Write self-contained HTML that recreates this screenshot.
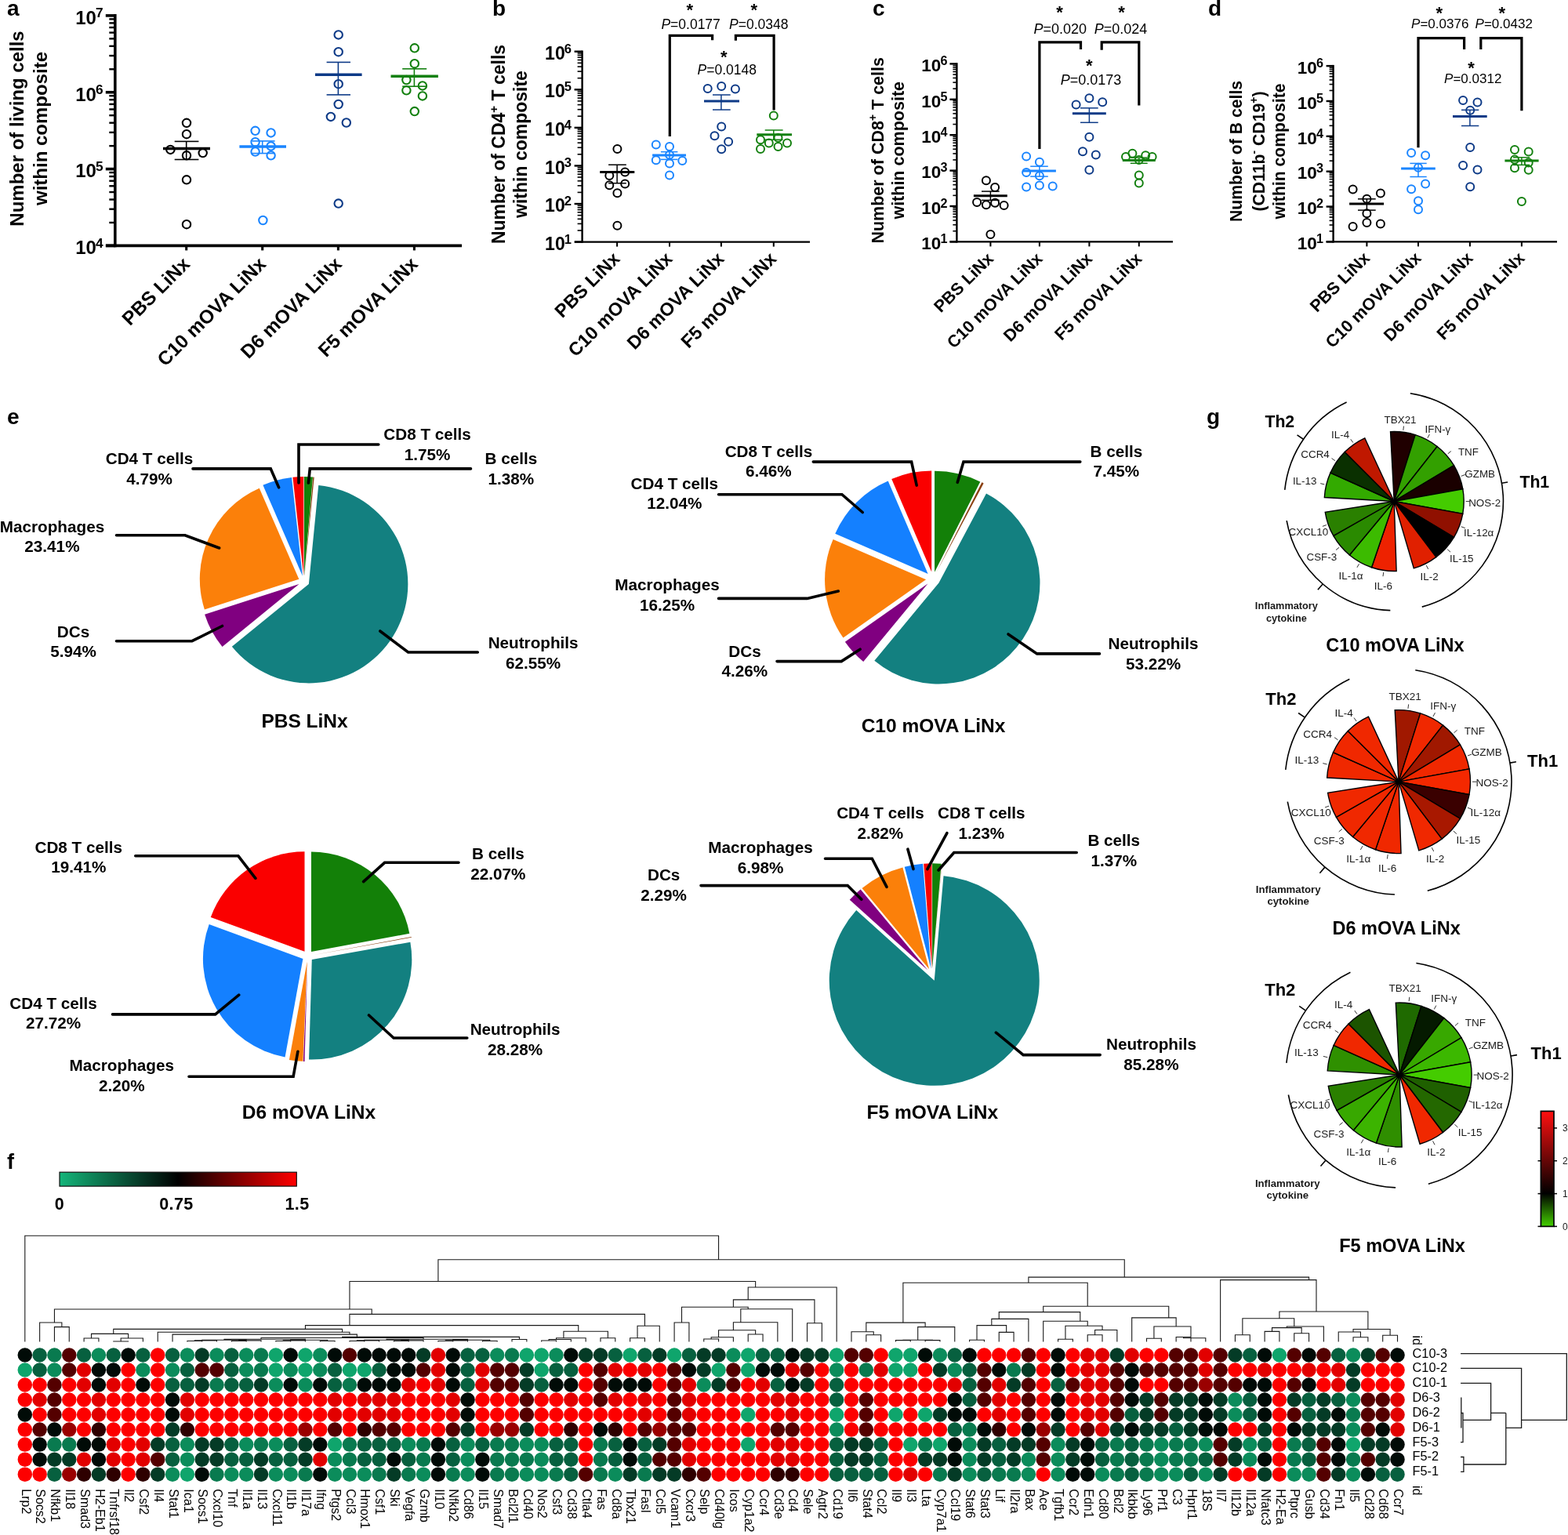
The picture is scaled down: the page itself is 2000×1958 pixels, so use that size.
<!DOCTYPE html>
<html><head><meta charset="utf-8"><title>Figure</title>
<style>html,body{margin:0;padding:0;background:#fff;}svg{display:block;}text{font-family:"Liberation Sans",Arial,sans-serif;}</style>
</head><body>
<svg width="2000" height="1958" viewBox="0 0 2000 1958" font-family="'Liberation Sans', Arial, sans-serif">
<rect width="2000" height="1958" fill="#fff"/>
<line x1="146.8" y1="18.1" x2="146.8" y2="315.2" stroke="#000" stroke-width="3.6"/>
<line x1="135" y1="313.4" x2="589" y2="313.4" stroke="#000" stroke-width="3.6"/>
<line x1="134.8" y1="313.4" x2="146.8" y2="313.4" stroke="#000" stroke-width="3.6"/>
<line x1="139.3" y1="283.95" x2="146.8" y2="283.95" stroke="#000" stroke-width="2.4"/>
<line x1="139.3" y1="266.72" x2="146.8" y2="266.72" stroke="#000" stroke-width="2.4"/>
<line x1="139.3" y1="254.5" x2="146.8" y2="254.5" stroke="#000" stroke-width="2.4"/>
<line x1="139.3" y1="245.02" x2="146.8" y2="245.02" stroke="#000" stroke-width="2.4"/>
<line x1="139.3" y1="237.27" x2="146.8" y2="237.27" stroke="#000" stroke-width="2.4"/>
<line x1="139.3" y1="230.72" x2="146.8" y2="230.72" stroke="#000" stroke-width="2.4"/>
<line x1="139.3" y1="225.05" x2="146.8" y2="225.05" stroke="#000" stroke-width="2.4"/>
<line x1="139.3" y1="220.04" x2="146.8" y2="220.04" stroke="#000" stroke-width="2.4"/>
<text x="131.5" y="324.2" font-size="24" font-weight="bold" text-anchor="end">10<tspan font-size="17.28" dx="-0.96" dy="-8.64">4</tspan></text>
<line x1="134.8" y1="215.57" x2="146.8" y2="215.57" stroke="#000" stroke-width="3.6"/>
<line x1="139.3" y1="186.12" x2="146.8" y2="186.12" stroke="#000" stroke-width="2.4"/>
<line x1="139.3" y1="168.89" x2="146.8" y2="168.89" stroke="#000" stroke-width="2.4"/>
<line x1="139.3" y1="156.67" x2="146.8" y2="156.67" stroke="#000" stroke-width="2.4"/>
<line x1="139.3" y1="147.18" x2="146.8" y2="147.18" stroke="#000" stroke-width="2.4"/>
<line x1="139.3" y1="139.44" x2="146.8" y2="139.44" stroke="#000" stroke-width="2.4"/>
<line x1="139.3" y1="132.89" x2="146.8" y2="132.89" stroke="#000" stroke-width="2.4"/>
<line x1="139.3" y1="127.21" x2="146.8" y2="127.21" stroke="#000" stroke-width="2.4"/>
<line x1="139.3" y1="122.21" x2="146.8" y2="122.21" stroke="#000" stroke-width="2.4"/>
<text x="131.5" y="226.37" font-size="24" font-weight="bold" text-anchor="end">10<tspan font-size="17.28" dx="-0.96" dy="-8.64">5</tspan></text>
<line x1="134.8" y1="117.73" x2="146.8" y2="117.73" stroke="#000" stroke-width="3.6"/>
<line x1="139.3" y1="88.28" x2="146.8" y2="88.28" stroke="#000" stroke-width="2.4"/>
<line x1="139.3" y1="71.05" x2="146.8" y2="71.05" stroke="#000" stroke-width="2.4"/>
<line x1="139.3" y1="58.83" x2="146.8" y2="58.83" stroke="#000" stroke-width="2.4"/>
<line x1="139.3" y1="49.35" x2="146.8" y2="49.35" stroke="#000" stroke-width="2.4"/>
<line x1="139.3" y1="41.6" x2="146.8" y2="41.6" stroke="#000" stroke-width="2.4"/>
<line x1="139.3" y1="35.05" x2="146.8" y2="35.05" stroke="#000" stroke-width="2.4"/>
<line x1="139.3" y1="29.38" x2="146.8" y2="29.38" stroke="#000" stroke-width="2.4"/>
<line x1="139.3" y1="24.38" x2="146.8" y2="24.38" stroke="#000" stroke-width="2.4"/>
<text x="131.5" y="128.53" font-size="24" font-weight="bold" text-anchor="end">10<tspan font-size="17.28" dx="-0.96" dy="-8.64">6</tspan></text>
<line x1="134.8" y1="19.9" x2="146.8" y2="19.9" stroke="#000" stroke-width="3.6"/>
<text x="131.5" y="30.7" font-size="24" font-weight="bold" text-anchor="end">10<tspan font-size="17.28" dx="-0.96" dy="-8.64">7</tspan></text>
<line x1="237.7" y1="313.4" x2="237.7" y2="319.4" stroke="#000" stroke-width="3.06"/>
<text x="243.7" y="338.4" font-size="24.5" font-weight="bold" text-anchor="end" transform="rotate(-45 243.7 338.4)">PBS LiNx</text>
<line x1="334.7" y1="313.4" x2="334.7" y2="319.4" stroke="#000" stroke-width="3.06"/>
<text x="340.7" y="338.4" font-size="24.5" font-weight="bold" text-anchor="end" transform="rotate(-45 340.7 338.4)">C10 mOVA LiNx</text>
<line x1="431.4" y1="313.4" x2="431.4" y2="319.4" stroke="#000" stroke-width="3.06"/>
<text x="437.4" y="338.4" font-size="24.5" font-weight="bold" text-anchor="end" transform="rotate(-45 437.4 338.4)">D6 mOVA LiNx</text>
<line x1="528.4" y1="313.4" x2="528.4" y2="319.4" stroke="#000" stroke-width="3.06"/>
<text x="534.4" y="338.4" font-size="24.5" font-weight="bold" text-anchor="end" transform="rotate(-45 534.4 338.4)">F5 mOVA LiNx</text>
<text x="30.3" y="164" font-size="24" font-weight="bold" text-anchor="middle" transform="rotate(-90 30.3 164)">Number of living cells</text>
<text x="59.5" y="164" font-size="24" font-weight="bold" text-anchor="middle" transform="rotate(-90 59.5 164)">within composite</text>
<circle cx="238" cy="156.8" r="5.2" fill="none" stroke="#000000" stroke-width="2.1"/>
<circle cx="238" cy="171.2" r="5.2" fill="none" stroke="#000000" stroke-width="2.1"/>
<circle cx="217.4" cy="190.9" r="5.2" fill="none" stroke="#000000" stroke-width="2.1"/>
<circle cx="238" cy="198.3" r="5.2" fill="none" stroke="#000000" stroke-width="2.1"/>
<circle cx="258.7" cy="195.1" r="5.2" fill="none" stroke="#000000" stroke-width="2.1"/>
<circle cx="238" cy="229.3" r="5.2" fill="none" stroke="#000000" stroke-width="2.1"/>
<circle cx="238" cy="286.2" r="5.2" fill="none" stroke="#000000" stroke-width="2.1"/>
<line x1="208" y1="189.6" x2="268" y2="189.6" stroke="#000000" stroke-width="3.5"/>
<line x1="237.7" y1="180.4" x2="237.7" y2="203.5" stroke="#000000" stroke-width="1.6"/>
<line x1="222.7" y1="180.4" x2="253.4" y2="180.4" stroke="#000000" stroke-width="1.6"/>
<line x1="222.7" y1="203.5" x2="253.4" y2="203.5" stroke="#000000" stroke-width="1.6"/>
<circle cx="325.6" cy="166.8" r="5.2" fill="none" stroke="#1a85ff" stroke-width="2.1"/>
<circle cx="345.6" cy="169.4" r="5.2" fill="none" stroke="#1a85ff" stroke-width="2.1"/>
<circle cx="325.6" cy="181.2" r="5.2" fill="none" stroke="#1a85ff" stroke-width="2.1"/>
<circle cx="345.6" cy="186.4" r="5.2" fill="none" stroke="#1a85ff" stroke-width="2.1"/>
<circle cx="325.6" cy="193.5" r="5.2" fill="none" stroke="#1a85ff" stroke-width="2.1"/>
<circle cx="345.6" cy="198.3" r="5.2" fill="none" stroke="#1a85ff" stroke-width="2.1"/>
<circle cx="335.4" cy="281" r="5.2" fill="none" stroke="#1a85ff" stroke-width="2.1"/>
<line x1="305.4" y1="187" x2="365" y2="187" stroke="#1a85ff" stroke-width="3.5"/>
<line x1="334.7" y1="179.9" x2="334.7" y2="195.6" stroke="#1a85ff" stroke-width="1.6"/>
<line x1="321.7" y1="179.9" x2="350.6" y2="179.9" stroke="#1a85ff" stroke-width="1.6"/>
<line x1="321.7" y1="195.6" x2="350.6" y2="195.6" stroke="#1a85ff" stroke-width="1.6"/>
<circle cx="431.7" cy="44.4" r="5.2" fill="none" stroke="#0d3a87" stroke-width="2.1"/>
<circle cx="431.7" cy="66.2" r="5.2" fill="none" stroke="#0d3a87" stroke-width="2.1"/>
<circle cx="431.7" cy="107.2" r="5.2" fill="none" stroke="#0d3a87" stroke-width="2.1"/>
<circle cx="431.7" cy="133" r="5.2" fill="none" stroke="#0d3a87" stroke-width="2.1"/>
<circle cx="421.9" cy="148.9" r="5.2" fill="none" stroke="#0d3a87" stroke-width="2.1"/>
<circle cx="441.8" cy="156.5" r="5.2" fill="none" stroke="#0d3a87" stroke-width="2.1"/>
<circle cx="431.7" cy="259.6" r="5.2" fill="none" stroke="#0d3a87" stroke-width="2.1"/>
<line x1="402" y1="95.2" x2="461.6" y2="95.2" stroke="#0d3a87" stroke-width="3.5"/>
<line x1="431.4" y1="79.4" x2="431.4" y2="120.9" stroke="#0d3a87" stroke-width="1.6"/>
<line x1="416.6" y1="79.4" x2="447" y2="79.4" stroke="#0d3a87" stroke-width="1.6"/>
<line x1="416.6" y1="120.9" x2="447" y2="120.9" stroke="#0d3a87" stroke-width="1.6"/>
<circle cx="528.8" cy="61.3" r="5.2" fill="none" stroke="#13800f" stroke-width="2.1"/>
<circle cx="528.8" cy="81.2" r="5.2" fill="none" stroke="#13800f" stroke-width="2.1"/>
<circle cx="518.4" cy="102" r="5.2" fill="none" stroke="#13800f" stroke-width="2.1"/>
<circle cx="538.9" cy="109.4" r="5.2" fill="none" stroke="#13800f" stroke-width="2.1"/>
<circle cx="518.4" cy="115.3" r="5.2" fill="none" stroke="#13800f" stroke-width="2.1"/>
<circle cx="538.9" cy="122.4" r="5.2" fill="none" stroke="#13800f" stroke-width="2.1"/>
<circle cx="528.8" cy="142.1" r="5.2" fill="none" stroke="#13800f" stroke-width="2.1"/>
<line x1="498.5" y1="97.2" x2="558.9" y2="97.2" stroke="#13800f" stroke-width="3.5"/>
<line x1="528.4" y1="87.8" x2="528.4" y2="110.2" stroke="#13800f" stroke-width="1.6"/>
<line x1="513.2" y1="87.8" x2="544.2" y2="87.8" stroke="#13800f" stroke-width="1.6"/>
<line x1="513.2" y1="110.2" x2="544.2" y2="110.2" stroke="#13800f" stroke-width="1.6"/>
<text x="9" y="20" font-size="28" font-weight="bold">a</text>
<line x1="742.6" y1="64.5" x2="742.6" y2="309.8" stroke="#000" stroke-width="2.4"/>
<line x1="733" y1="308.6" x2="1033" y2="308.6" stroke="#000" stroke-width="2.4"/>
<line x1="732.6" y1="308.6" x2="742.6" y2="308.6" stroke="#000" stroke-width="2.4"/>
<line x1="736.6" y1="293.98" x2="742.6" y2="293.98" stroke="#000" stroke-width="1.6"/>
<line x1="736.6" y1="285.42" x2="742.6" y2="285.42" stroke="#000" stroke-width="1.6"/>
<line x1="736.6" y1="279.35" x2="742.6" y2="279.35" stroke="#000" stroke-width="1.6"/>
<line x1="736.6" y1="274.64" x2="742.6" y2="274.64" stroke="#000" stroke-width="1.6"/>
<line x1="736.6" y1="270.8" x2="742.6" y2="270.8" stroke="#000" stroke-width="1.6"/>
<line x1="736.6" y1="267.55" x2="742.6" y2="267.55" stroke="#000" stroke-width="1.6"/>
<line x1="736.6" y1="264.73" x2="742.6" y2="264.73" stroke="#000" stroke-width="1.6"/>
<line x1="736.6" y1="262.24" x2="742.6" y2="262.24" stroke="#000" stroke-width="1.6"/>
<text x="729" y="318.8" font-size="23" font-weight="bold" text-anchor="end">10<tspan font-size="16.56" dx="-0.92" dy="-8.28">1</tspan></text>
<line x1="732.6" y1="260.02" x2="742.6" y2="260.02" stroke="#000" stroke-width="2.4"/>
<line x1="736.6" y1="245.4" x2="742.6" y2="245.4" stroke="#000" stroke-width="1.6"/>
<line x1="736.6" y1="236.84" x2="742.6" y2="236.84" stroke="#000" stroke-width="1.6"/>
<line x1="736.6" y1="230.77" x2="742.6" y2="230.77" stroke="#000" stroke-width="1.6"/>
<line x1="736.6" y1="226.06" x2="742.6" y2="226.06" stroke="#000" stroke-width="1.6"/>
<line x1="736.6" y1="222.22" x2="742.6" y2="222.22" stroke="#000" stroke-width="1.6"/>
<line x1="736.6" y1="218.97" x2="742.6" y2="218.97" stroke="#000" stroke-width="1.6"/>
<line x1="736.6" y1="216.15" x2="742.6" y2="216.15" stroke="#000" stroke-width="1.6"/>
<line x1="736.6" y1="213.66" x2="742.6" y2="213.66" stroke="#000" stroke-width="1.6"/>
<text x="729" y="270.22" font-size="23" font-weight="bold" text-anchor="end">10<tspan font-size="16.56" dx="-0.92" dy="-8.28">2</tspan></text>
<line x1="732.6" y1="211.44" x2="742.6" y2="211.44" stroke="#000" stroke-width="2.4"/>
<line x1="736.6" y1="196.82" x2="742.6" y2="196.82" stroke="#000" stroke-width="1.6"/>
<line x1="736.6" y1="188.26" x2="742.6" y2="188.26" stroke="#000" stroke-width="1.6"/>
<line x1="736.6" y1="182.19" x2="742.6" y2="182.19" stroke="#000" stroke-width="1.6"/>
<line x1="736.6" y1="177.48" x2="742.6" y2="177.48" stroke="#000" stroke-width="1.6"/>
<line x1="736.6" y1="173.64" x2="742.6" y2="173.64" stroke="#000" stroke-width="1.6"/>
<line x1="736.6" y1="170.39" x2="742.6" y2="170.39" stroke="#000" stroke-width="1.6"/>
<line x1="736.6" y1="167.57" x2="742.6" y2="167.57" stroke="#000" stroke-width="1.6"/>
<line x1="736.6" y1="165.08" x2="742.6" y2="165.08" stroke="#000" stroke-width="1.6"/>
<text x="729" y="221.64" font-size="23" font-weight="bold" text-anchor="end">10<tspan font-size="16.56" dx="-0.92" dy="-8.28">3</tspan></text>
<line x1="732.6" y1="162.86" x2="742.6" y2="162.86" stroke="#000" stroke-width="2.4"/>
<line x1="736.6" y1="148.24" x2="742.6" y2="148.24" stroke="#000" stroke-width="1.6"/>
<line x1="736.6" y1="139.68" x2="742.6" y2="139.68" stroke="#000" stroke-width="1.6"/>
<line x1="736.6" y1="133.61" x2="742.6" y2="133.61" stroke="#000" stroke-width="1.6"/>
<line x1="736.6" y1="128.9" x2="742.6" y2="128.9" stroke="#000" stroke-width="1.6"/>
<line x1="736.6" y1="125.06" x2="742.6" y2="125.06" stroke="#000" stroke-width="1.6"/>
<line x1="736.6" y1="121.81" x2="742.6" y2="121.81" stroke="#000" stroke-width="1.6"/>
<line x1="736.6" y1="118.99" x2="742.6" y2="118.99" stroke="#000" stroke-width="1.6"/>
<line x1="736.6" y1="116.5" x2="742.6" y2="116.5" stroke="#000" stroke-width="1.6"/>
<text x="729" y="173.06" font-size="23" font-weight="bold" text-anchor="end">10<tspan font-size="16.56" dx="-0.92" dy="-8.28">4</tspan></text>
<line x1="732.6" y1="114.28" x2="742.6" y2="114.28" stroke="#000" stroke-width="2.4"/>
<line x1="736.6" y1="99.66" x2="742.6" y2="99.66" stroke="#000" stroke-width="1.6"/>
<line x1="736.6" y1="91.1" x2="742.6" y2="91.1" stroke="#000" stroke-width="1.6"/>
<line x1="736.6" y1="85.03" x2="742.6" y2="85.03" stroke="#000" stroke-width="1.6"/>
<line x1="736.6" y1="80.32" x2="742.6" y2="80.32" stroke="#000" stroke-width="1.6"/>
<line x1="736.6" y1="76.48" x2="742.6" y2="76.48" stroke="#000" stroke-width="1.6"/>
<line x1="736.6" y1="73.23" x2="742.6" y2="73.23" stroke="#000" stroke-width="1.6"/>
<line x1="736.6" y1="70.41" x2="742.6" y2="70.41" stroke="#000" stroke-width="1.6"/>
<line x1="736.6" y1="67.92" x2="742.6" y2="67.92" stroke="#000" stroke-width="1.6"/>
<text x="729" y="124.48" font-size="23" font-weight="bold" text-anchor="end">10<tspan font-size="16.56" dx="-0.92" dy="-8.28">5</tspan></text>
<line x1="732.6" y1="65.7" x2="742.6" y2="65.7" stroke="#000" stroke-width="2.4"/>
<text x="729" y="75.9" font-size="23" font-weight="bold" text-anchor="end">10<tspan font-size="16.56" dx="-0.92" dy="-8.28">6</tspan></text>
<line x1="787.1" y1="308.6" x2="787.1" y2="314.6" stroke="#000" stroke-width="2.04"/>
<text x="792.1" y="331.6" font-size="23.5" font-weight="bold" text-anchor="end" transform="rotate(-45 792.1 331.6)">PBS LiNx</text>
<line x1="854" y1="308.6" x2="854" y2="314.6" stroke="#000" stroke-width="2.04"/>
<text x="859" y="331.6" font-size="23.5" font-weight="bold" text-anchor="end" transform="rotate(-45 859 331.6)">C10 mOVA LiNx</text>
<line x1="919.9" y1="308.6" x2="919.9" y2="314.6" stroke="#000" stroke-width="2.04"/>
<text x="924.9" y="331.6" font-size="23.5" font-weight="bold" text-anchor="end" transform="rotate(-45 924.9 331.6)">D6 mOVA LiNx</text>
<line x1="986.8" y1="308.6" x2="986.8" y2="314.6" stroke="#000" stroke-width="2.04"/>
<text x="991.8" y="331.6" font-size="23.5" font-weight="bold" text-anchor="end" transform="rotate(-45 991.8 331.6)">F5 mOVA LiNx</text>
<text x="644.3" y="184" font-size="23" font-weight="bold" text-anchor="middle" transform="rotate(-90 644.3 184)">Number of CD4<tspan font-size="15" dy="-9">+</tspan><tspan dy="9"> T cells</tspan></text>
<text x="672.4" y="184" font-size="23" font-weight="bold" text-anchor="middle" transform="rotate(-90 672.4 184)">within composite</text>
<circle cx="787.4" cy="190" r="5.0" fill="none" stroke="#000000" stroke-width="2.0"/>
<circle cx="777.3" cy="224.1" r="5.0" fill="none" stroke="#000000" stroke-width="2.0"/>
<circle cx="797.2" cy="219.4" r="5.0" fill="none" stroke="#000000" stroke-width="2.0"/>
<circle cx="777.3" cy="236.2" r="5.0" fill="none" stroke="#000000" stroke-width="2.0"/>
<circle cx="797.2" cy="234.5" r="5.0" fill="none" stroke="#000000" stroke-width="2.0"/>
<circle cx="787.4" cy="246.3" r="5.0" fill="none" stroke="#000000" stroke-width="2.0"/>
<circle cx="787.4" cy="287.8" r="5.0" fill="none" stroke="#000000" stroke-width="2.0"/>
<line x1="765.2" y1="219.4" x2="809.3" y2="219.4" stroke="#000000" stroke-width="3.0"/>
<line x1="787.1" y1="210.2" x2="787.1" y2="233.7" stroke="#000000" stroke-width="1.5"/>
<line x1="776.1" y1="210.2" x2="798.8" y2="210.2" stroke="#000000" stroke-width="1.5"/>
<line x1="776.1" y1="233.7" x2="798.8" y2="233.7" stroke="#000000" stroke-width="1.5"/>
<circle cx="836.8" cy="184.4" r="5.0" fill="none" stroke="#1a85ff" stroke-width="2.0"/>
<circle cx="854" cy="187" r="5.0" fill="none" stroke="#1a85ff" stroke-width="2.0"/>
<circle cx="854" cy="197.5" r="5.0" fill="none" stroke="#1a85ff" stroke-width="2.0"/>
<circle cx="836.8" cy="204.3" r="5.0" fill="none" stroke="#1a85ff" stroke-width="2.0"/>
<circle cx="870.3" cy="205.1" r="5.0" fill="none" stroke="#1a85ff" stroke-width="2.0"/>
<circle cx="854" cy="208.5" r="5.0" fill="none" stroke="#1a85ff" stroke-width="2.0"/>
<circle cx="854" cy="223.6" r="5.0" fill="none" stroke="#1a85ff" stroke-width="2.0"/>
<line x1="832.1" y1="197.9" x2="875" y2="197.9" stroke="#1a85ff" stroke-width="3.0"/>
<line x1="854" y1="193.7" x2="854" y2="203.4" stroke="#1a85ff" stroke-width="1.5"/>
<line x1="842.9" y1="193.7" x2="864.4" y2="193.7" stroke="#1a85ff" stroke-width="1.5"/>
<line x1="842.9" y1="203.4" x2="864.4" y2="203.4" stroke="#1a85ff" stroke-width="1.5"/>
<circle cx="902.7" cy="113" r="5.0" fill="none" stroke="#0d3a87" stroke-width="2.0"/>
<circle cx="920.2" cy="110.1" r="5.0" fill="none" stroke="#0d3a87" stroke-width="2.0"/>
<circle cx="937.9" cy="113.5" r="5.0" fill="none" stroke="#0d3a87" stroke-width="2.0"/>
<circle cx="920.2" cy="161.4" r="5.0" fill="none" stroke="#0d3a87" stroke-width="2.0"/>
<circle cx="911.5" cy="173.2" r="5.0" fill="none" stroke="#0d3a87" stroke-width="2.0"/>
<circle cx="929.1" cy="180.7" r="5.0" fill="none" stroke="#0d3a87" stroke-width="2.0"/>
<circle cx="920.2" cy="190.3" r="5.0" fill="none" stroke="#0d3a87" stroke-width="2.0"/>
<line x1="898" y1="129" x2="943" y2="129" stroke="#0d3a87" stroke-width="3.0"/>
<line x1="919.9" y1="121" x2="919.9" y2="140" stroke="#0d3a87" stroke-width="1.5"/>
<line x1="909" y1="121" x2="931.7" y2="121" stroke="#0d3a87" stroke-width="1.5"/>
<line x1="909" y1="140" x2="931.7" y2="140" stroke="#0d3a87" stroke-width="1.5"/>
<circle cx="986.8" cy="147.4" r="5.0" fill="none" stroke="#13800f" stroke-width="2.0"/>
<circle cx="970" cy="178.2" r="5.0" fill="none" stroke="#13800f" stroke-width="2.0"/>
<circle cx="980.8" cy="182.4" r="5.0" fill="none" stroke="#13800f" stroke-width="2.0"/>
<circle cx="992.5" cy="175.7" r="5.0" fill="none" stroke="#13800f" stroke-width="2.0"/>
<circle cx="1004" cy="182.4" r="5.0" fill="none" stroke="#13800f" stroke-width="2.0"/>
<circle cx="970" cy="190" r="5.0" fill="none" stroke="#13800f" stroke-width="2.0"/>
<circle cx="992.5" cy="187" r="5.0" fill="none" stroke="#13800f" stroke-width="2.0"/>
<line x1="965.3" y1="171.8" x2="1010" y2="171.8" stroke="#13800f" stroke-width="3.0"/>
<line x1="986.8" y1="166" x2="986.8" y2="178.2" stroke="#13800f" stroke-width="1.5"/>
<line x1="975.7" y1="166" x2="998.6" y2="166" stroke="#13800f" stroke-width="1.5"/>
<line x1="975.7" y1="178.2" x2="998.6" y2="178.2" stroke="#13800f" stroke-width="1.5"/>
<path d="M854.3 174V45.4H908.6V51.3" fill="none" stroke="#000" stroke-width="3.2"/>
<path d="M938.4 51.8V45.4H987.1V140.4" fill="none" stroke="#000" stroke-width="3.2"/>
<text x="843.4" y="36.7" font-size="17.5" text-anchor="start"><tspan font-style="italic">P</tspan>=0.0177</text>
<text x="930" y="36.7" font-size="17.5" text-anchor="start"><tspan font-style="italic">P</tspan>=0.0348</text>
<text x="889.6" y="95" font-size="17.5" text-anchor="start"><tspan font-style="italic">P</tspan>=0.0148</text>
<text x="879.9" y="20" font-size="22" font-weight="bold" text-anchor="middle">*</text>
<text x="961.9" y="20" font-size="22" font-weight="bold" text-anchor="middle">*</text>
<text x="923.3" y="80" font-size="22" font-weight="bold" text-anchor="middle">*</text>
<text x="628" y="20" font-size="28" font-weight="bold">b</text>
<line x1="1220.4" y1="80.2" x2="1220.4" y2="309.6" stroke="#000" stroke-width="2.4"/>
<line x1="1211.5" y1="308.4" x2="1496" y2="308.4" stroke="#000" stroke-width="2.4"/>
<line x1="1211.4" y1="308.4" x2="1220.4" y2="308.4" stroke="#000" stroke-width="2.4"/>
<line x1="1215.4" y1="294.73" x2="1220.4" y2="294.73" stroke="#000" stroke-width="1.6"/>
<line x1="1215.4" y1="286.74" x2="1220.4" y2="286.74" stroke="#000" stroke-width="1.6"/>
<line x1="1215.4" y1="281.07" x2="1220.4" y2="281.07" stroke="#000" stroke-width="1.6"/>
<line x1="1215.4" y1="276.67" x2="1220.4" y2="276.67" stroke="#000" stroke-width="1.6"/>
<line x1="1215.4" y1="273.07" x2="1220.4" y2="273.07" stroke="#000" stroke-width="1.6"/>
<line x1="1215.4" y1="270.03" x2="1220.4" y2="270.03" stroke="#000" stroke-width="1.6"/>
<line x1="1215.4" y1="267.4" x2="1220.4" y2="267.4" stroke="#000" stroke-width="1.6"/>
<line x1="1215.4" y1="265.08" x2="1220.4" y2="265.08" stroke="#000" stroke-width="1.6"/>
<text x="1208.5" y="318.2" font-size="22.5" font-weight="bold" text-anchor="end">10<tspan font-size="16.2" dx="-0.9" dy="-8.1">1</tspan></text>
<line x1="1211.4" y1="263" x2="1220.4" y2="263" stroke="#000" stroke-width="2.4"/>
<line x1="1215.4" y1="249.33" x2="1220.4" y2="249.33" stroke="#000" stroke-width="1.6"/>
<line x1="1215.4" y1="241.34" x2="1220.4" y2="241.34" stroke="#000" stroke-width="1.6"/>
<line x1="1215.4" y1="235.67" x2="1220.4" y2="235.67" stroke="#000" stroke-width="1.6"/>
<line x1="1215.4" y1="231.27" x2="1220.4" y2="231.27" stroke="#000" stroke-width="1.6"/>
<line x1="1215.4" y1="227.67" x2="1220.4" y2="227.67" stroke="#000" stroke-width="1.6"/>
<line x1="1215.4" y1="224.63" x2="1220.4" y2="224.63" stroke="#000" stroke-width="1.6"/>
<line x1="1215.4" y1="222" x2="1220.4" y2="222" stroke="#000" stroke-width="1.6"/>
<line x1="1215.4" y1="219.68" x2="1220.4" y2="219.68" stroke="#000" stroke-width="1.6"/>
<text x="1208.5" y="272.8" font-size="22.5" font-weight="bold" text-anchor="end">10<tspan font-size="16.2" dx="-0.9" dy="-8.1">2</tspan></text>
<line x1="1211.4" y1="217.6" x2="1220.4" y2="217.6" stroke="#000" stroke-width="2.4"/>
<line x1="1215.4" y1="203.93" x2="1220.4" y2="203.93" stroke="#000" stroke-width="1.6"/>
<line x1="1215.4" y1="195.94" x2="1220.4" y2="195.94" stroke="#000" stroke-width="1.6"/>
<line x1="1215.4" y1="190.27" x2="1220.4" y2="190.27" stroke="#000" stroke-width="1.6"/>
<line x1="1215.4" y1="185.87" x2="1220.4" y2="185.87" stroke="#000" stroke-width="1.6"/>
<line x1="1215.4" y1="182.27" x2="1220.4" y2="182.27" stroke="#000" stroke-width="1.6"/>
<line x1="1215.4" y1="179.23" x2="1220.4" y2="179.23" stroke="#000" stroke-width="1.6"/>
<line x1="1215.4" y1="176.6" x2="1220.4" y2="176.6" stroke="#000" stroke-width="1.6"/>
<line x1="1215.4" y1="174.28" x2="1220.4" y2="174.28" stroke="#000" stroke-width="1.6"/>
<text x="1208.5" y="227.4" font-size="22.5" font-weight="bold" text-anchor="end">10<tspan font-size="16.2" dx="-0.9" dy="-8.1">3</tspan></text>
<line x1="1211.4" y1="172.2" x2="1220.4" y2="172.2" stroke="#000" stroke-width="2.4"/>
<line x1="1215.4" y1="158.53" x2="1220.4" y2="158.53" stroke="#000" stroke-width="1.6"/>
<line x1="1215.4" y1="150.54" x2="1220.4" y2="150.54" stroke="#000" stroke-width="1.6"/>
<line x1="1215.4" y1="144.87" x2="1220.4" y2="144.87" stroke="#000" stroke-width="1.6"/>
<line x1="1215.4" y1="140.47" x2="1220.4" y2="140.47" stroke="#000" stroke-width="1.6"/>
<line x1="1215.4" y1="136.87" x2="1220.4" y2="136.87" stroke="#000" stroke-width="1.6"/>
<line x1="1215.4" y1="133.83" x2="1220.4" y2="133.83" stroke="#000" stroke-width="1.6"/>
<line x1="1215.4" y1="131.2" x2="1220.4" y2="131.2" stroke="#000" stroke-width="1.6"/>
<line x1="1215.4" y1="128.88" x2="1220.4" y2="128.88" stroke="#000" stroke-width="1.6"/>
<text x="1208.5" y="182" font-size="22.5" font-weight="bold" text-anchor="end">10<tspan font-size="16.2" dx="-0.9" dy="-8.1">4</tspan></text>
<line x1="1211.4" y1="126.8" x2="1220.4" y2="126.8" stroke="#000" stroke-width="2.4"/>
<line x1="1215.4" y1="113.13" x2="1220.4" y2="113.13" stroke="#000" stroke-width="1.6"/>
<line x1="1215.4" y1="105.14" x2="1220.4" y2="105.14" stroke="#000" stroke-width="1.6"/>
<line x1="1215.4" y1="99.47" x2="1220.4" y2="99.47" stroke="#000" stroke-width="1.6"/>
<line x1="1215.4" y1="95.07" x2="1220.4" y2="95.07" stroke="#000" stroke-width="1.6"/>
<line x1="1215.4" y1="91.47" x2="1220.4" y2="91.47" stroke="#000" stroke-width="1.6"/>
<line x1="1215.4" y1="88.43" x2="1220.4" y2="88.43" stroke="#000" stroke-width="1.6"/>
<line x1="1215.4" y1="85.8" x2="1220.4" y2="85.8" stroke="#000" stroke-width="1.6"/>
<line x1="1215.4" y1="83.48" x2="1220.4" y2="83.48" stroke="#000" stroke-width="1.6"/>
<text x="1208.5" y="136.6" font-size="22.5" font-weight="bold" text-anchor="end">10<tspan font-size="16.2" dx="-0.9" dy="-8.1">5</tspan></text>
<line x1="1211.4" y1="81.4" x2="1220.4" y2="81.4" stroke="#000" stroke-width="2.4"/>
<text x="1208.5" y="91.2" font-size="22.5" font-weight="bold" text-anchor="end">10<tspan font-size="16.2" dx="-0.9" dy="-8.1">6</tspan></text>
<line x1="1263.4" y1="308.4" x2="1263.4" y2="314.4" stroke="#000" stroke-width="2.04"/>
<text x="1268.4" y="331.4" font-size="21.5" font-weight="bold" text-anchor="end" transform="rotate(-45 1268.4 331.4)">PBS LiNx</text>
<line x1="1325.9" y1="308.4" x2="1325.9" y2="314.4" stroke="#000" stroke-width="2.04"/>
<text x="1330.9" y="331.4" font-size="21.5" font-weight="bold" text-anchor="end" transform="rotate(-45 1330.9 331.4)">C10 mOVA LiNx</text>
<line x1="1389.4" y1="308.4" x2="1389.4" y2="314.4" stroke="#000" stroke-width="2.04"/>
<text x="1394.4" y="331.4" font-size="21.5" font-weight="bold" text-anchor="end" transform="rotate(-45 1394.4 331.4)">D6 mOVA LiNx</text>
<line x1="1452.8" y1="308.4" x2="1452.8" y2="314.4" stroke="#000" stroke-width="2.04"/>
<text x="1457.8" y="331.4" font-size="21.5" font-weight="bold" text-anchor="end" transform="rotate(-45 1457.8 331.4)">F5 mOVA LiNx</text>
<text x="1126.9" y="191.8" font-size="21.5" font-weight="bold" text-anchor="middle" transform="rotate(-90 1126.9 191.8)">Number of CD8<tspan font-size="14" dy="-9">+</tspan><tspan dy="9"> T cells</tspan></text>
<text x="1153.5" y="191.8" font-size="21.5" font-weight="bold" text-anchor="middle" transform="rotate(-90 1153.5 191.8)">within composite</text>
<circle cx="1257.9" cy="230.2" r="5.0" fill="none" stroke="#000000" stroke-width="2.0"/>
<circle cx="1269.1" cy="238.9" r="5.0" fill="none" stroke="#000000" stroke-width="2.0"/>
<circle cx="1246.1" cy="257.9" r="5.0" fill="none" stroke="#000000" stroke-width="2.0"/>
<circle cx="1257.9" cy="261.3" r="5.0" fill="none" stroke="#000000" stroke-width="2.0"/>
<circle cx="1269.1" cy="258.7" r="5.0" fill="none" stroke="#000000" stroke-width="2.0"/>
<circle cx="1280.6" cy="262.1" r="5.0" fill="none" stroke="#000000" stroke-width="2.0"/>
<circle cx="1263.4" cy="299" r="5.0" fill="none" stroke="#000000" stroke-width="2.0"/>
<line x1="1241.9" y1="249.8" x2="1284.8" y2="249.8" stroke="#000000" stroke-width="3.0"/>
<line x1="1263.4" y1="244.1" x2="1263.4" y2="255.4" stroke="#000000" stroke-width="1.5"/>
<line x1="1252" y1="244.1" x2="1274.7" y2="244.1" stroke="#000000" stroke-width="1.5"/>
<line x1="1252" y1="255.4" x2="1274.7" y2="255.4" stroke="#000000" stroke-width="1.5"/>
<circle cx="1309.1" cy="199.4" r="5.0" fill="none" stroke="#1a85ff" stroke-width="2.0"/>
<circle cx="1325.9" cy="206.7" r="5.0" fill="none" stroke="#1a85ff" stroke-width="2.0"/>
<circle cx="1309.1" cy="220.1" r="5.0" fill="none" stroke="#1a85ff" stroke-width="2.0"/>
<circle cx="1325.9" cy="224.3" r="5.0" fill="none" stroke="#1a85ff" stroke-width="2.0"/>
<circle cx="1309.1" cy="238.6" r="5.0" fill="none" stroke="#1a85ff" stroke-width="2.0"/>
<circle cx="1325.9" cy="236.4" r="5.0" fill="none" stroke="#1a85ff" stroke-width="2.0"/>
<circle cx="1342.7" cy="237.4" r="5.0" fill="none" stroke="#1a85ff" stroke-width="2.0"/>
<line x1="1304.4" y1="217.9" x2="1346.9" y2="217.9" stroke="#1a85ff" stroke-width="3.0"/>
<line x1="1325.9" y1="212.2" x2="1325.9" y2="225.1" stroke="#1a85ff" stroke-width="1.5"/>
<line x1="1314.2" y1="212.2" x2="1336.8" y2="212.2" stroke="#1a85ff" stroke-width="1.5"/>
<line x1="1314.2" y1="225.1" x2="1336.8" y2="225.1" stroke="#1a85ff" stroke-width="1.5"/>
<circle cx="1372.6" cy="133.6" r="5.0" fill="none" stroke="#0d3a87" stroke-width="2.0"/>
<circle cx="1389.4" cy="125.2" r="5.0" fill="none" stroke="#0d3a87" stroke-width="2.0"/>
<circle cx="1406.2" cy="130.2" r="5.0" fill="none" stroke="#0d3a87" stroke-width="2.0"/>
<circle cx="1389.4" cy="174.7" r="5.0" fill="none" stroke="#0d3a87" stroke-width="2.0"/>
<circle cx="1381" cy="193.2" r="5.0" fill="none" stroke="#0d3a87" stroke-width="2.0"/>
<circle cx="1397.8" cy="197.4" r="5.0" fill="none" stroke="#0d3a87" stroke-width="2.0"/>
<circle cx="1389.4" cy="216.7" r="5.0" fill="none" stroke="#0d3a87" stroke-width="2.0"/>
<line x1="1367.9" y1="144.8" x2="1410.8" y2="144.8" stroke="#0d3a87" stroke-width="3.0"/>
<line x1="1389.4" y1="137.8" x2="1389.4" y2="156.3" stroke="#0d3a87" stroke-width="1.5"/>
<line x1="1378" y1="137.8" x2="1400.7" y2="137.8" stroke="#0d3a87" stroke-width="1.5"/>
<line x1="1378" y1="156.3" x2="1400.7" y2="156.3" stroke="#0d3a87" stroke-width="1.5"/>
<circle cx="1436" cy="199.9" r="5.0" fill="none" stroke="#13800f" stroke-width="2.0"/>
<circle cx="1444.4" cy="195.7" r="5.0" fill="none" stroke="#13800f" stroke-width="2.0"/>
<circle cx="1461.2" cy="198.3" r="5.0" fill="none" stroke="#13800f" stroke-width="2.0"/>
<circle cx="1469.6" cy="199.9" r="5.0" fill="none" stroke="#13800f" stroke-width="2.0"/>
<circle cx="1452.8" cy="204.1" r="5.0" fill="none" stroke="#13800f" stroke-width="2.0"/>
<circle cx="1452.8" cy="223.5" r="5.0" fill="none" stroke="#13800f" stroke-width="2.0"/>
<circle cx="1452.8" cy="233.5" r="5.0" fill="none" stroke="#13800f" stroke-width="2.0"/>
<line x1="1431.8" y1="204.6" x2="1473.8" y2="204.6" stroke="#13800f" stroke-width="3.0"/>
<line x1="1452.8" y1="201.1" x2="1452.8" y2="208.3" stroke="#13800f" stroke-width="1.5"/>
<line x1="1441.8" y1="201.1" x2="1463.7" y2="201.1" stroke="#13800f" stroke-width="1.5"/>
<line x1="1441.8" y1="208.3" x2="1463.7" y2="208.3" stroke="#13800f" stroke-width="1.5"/>
<path d="M1325.9 189.9V53.8H1378.5V63" fill="none" stroke="#000" stroke-width="3.2"/>
<path d="M1405.2 63.8V53.8H1452.8V134.4" fill="none" stroke="#000" stroke-width="3.2"/>
<text x="1318.4" y="42.8" font-size="18" text-anchor="start"><tspan font-style="italic">P</tspan>=0.020</text>
<text x="1395.7" y="42.8" font-size="18" text-anchor="start"><tspan font-style="italic">P</tspan>=0.024</text>
<text x="1352.8" y="108.4" font-size="18" text-anchor="start"><tspan font-style="italic">P</tspan>=0.0173</text>
<text x="1351.6" y="22.5" font-size="22" font-weight="bold" text-anchor="middle">*</text>
<text x="1430.6" y="22.5" font-size="22" font-weight="bold" text-anchor="middle">*</text>
<text x="1389.4" y="90.5" font-size="22" font-weight="bold" text-anchor="middle">*</text>
<text x="1113" y="20" font-size="28" font-weight="bold">c</text>
<line x1="1700.6" y1="82.9" x2="1700.6" y2="309.6" stroke="#000" stroke-width="2.4"/>
<line x1="1691.6" y1="308.4" x2="1986" y2="308.4" stroke="#000" stroke-width="2.4"/>
<line x1="1691.6" y1="308.4" x2="1700.6" y2="308.4" stroke="#000" stroke-width="2.4"/>
<line x1="1695.6" y1="294.9" x2="1700.6" y2="294.9" stroke="#000" stroke-width="1.6"/>
<line x1="1695.6" y1="287" x2="1700.6" y2="287" stroke="#000" stroke-width="1.6"/>
<line x1="1695.6" y1="281.39" x2="1700.6" y2="281.39" stroke="#000" stroke-width="1.6"/>
<line x1="1695.6" y1="277.04" x2="1700.6" y2="277.04" stroke="#000" stroke-width="1.6"/>
<line x1="1695.6" y1="273.49" x2="1700.6" y2="273.49" stroke="#000" stroke-width="1.6"/>
<line x1="1695.6" y1="270.49" x2="1700.6" y2="270.49" stroke="#000" stroke-width="1.6"/>
<line x1="1695.6" y1="267.89" x2="1700.6" y2="267.89" stroke="#000" stroke-width="1.6"/>
<line x1="1695.6" y1="265.59" x2="1700.6" y2="265.59" stroke="#000" stroke-width="1.6"/>
<text x="1688" y="318.2" font-size="22.5" font-weight="bold" text-anchor="end">10<tspan font-size="16.2" dx="-0.9" dy="-8.1">1</tspan></text>
<line x1="1691.6" y1="263.54" x2="1700.6" y2="263.54" stroke="#000" stroke-width="2.4"/>
<line x1="1695.6" y1="250.04" x2="1700.6" y2="250.04" stroke="#000" stroke-width="1.6"/>
<line x1="1695.6" y1="242.14" x2="1700.6" y2="242.14" stroke="#000" stroke-width="1.6"/>
<line x1="1695.6" y1="236.53" x2="1700.6" y2="236.53" stroke="#000" stroke-width="1.6"/>
<line x1="1695.6" y1="232.18" x2="1700.6" y2="232.18" stroke="#000" stroke-width="1.6"/>
<line x1="1695.6" y1="228.63" x2="1700.6" y2="228.63" stroke="#000" stroke-width="1.6"/>
<line x1="1695.6" y1="225.63" x2="1700.6" y2="225.63" stroke="#000" stroke-width="1.6"/>
<line x1="1695.6" y1="223.03" x2="1700.6" y2="223.03" stroke="#000" stroke-width="1.6"/>
<line x1="1695.6" y1="220.73" x2="1700.6" y2="220.73" stroke="#000" stroke-width="1.6"/>
<text x="1688" y="273.34" font-size="22.5" font-weight="bold" text-anchor="end">10<tspan font-size="16.2" dx="-0.9" dy="-8.1">2</tspan></text>
<line x1="1691.6" y1="218.68" x2="1700.6" y2="218.68" stroke="#000" stroke-width="2.4"/>
<line x1="1695.6" y1="205.18" x2="1700.6" y2="205.18" stroke="#000" stroke-width="1.6"/>
<line x1="1695.6" y1="197.28" x2="1700.6" y2="197.28" stroke="#000" stroke-width="1.6"/>
<line x1="1695.6" y1="191.67" x2="1700.6" y2="191.67" stroke="#000" stroke-width="1.6"/>
<line x1="1695.6" y1="187.32" x2="1700.6" y2="187.32" stroke="#000" stroke-width="1.6"/>
<line x1="1695.6" y1="183.77" x2="1700.6" y2="183.77" stroke="#000" stroke-width="1.6"/>
<line x1="1695.6" y1="180.77" x2="1700.6" y2="180.77" stroke="#000" stroke-width="1.6"/>
<line x1="1695.6" y1="178.17" x2="1700.6" y2="178.17" stroke="#000" stroke-width="1.6"/>
<line x1="1695.6" y1="175.87" x2="1700.6" y2="175.87" stroke="#000" stroke-width="1.6"/>
<text x="1688" y="228.48" font-size="22.5" font-weight="bold" text-anchor="end">10<tspan font-size="16.2" dx="-0.9" dy="-8.1">3</tspan></text>
<line x1="1691.6" y1="173.82" x2="1700.6" y2="173.82" stroke="#000" stroke-width="2.4"/>
<line x1="1695.6" y1="160.32" x2="1700.6" y2="160.32" stroke="#000" stroke-width="1.6"/>
<line x1="1695.6" y1="152.42" x2="1700.6" y2="152.42" stroke="#000" stroke-width="1.6"/>
<line x1="1695.6" y1="146.81" x2="1700.6" y2="146.81" stroke="#000" stroke-width="1.6"/>
<line x1="1695.6" y1="142.46" x2="1700.6" y2="142.46" stroke="#000" stroke-width="1.6"/>
<line x1="1695.6" y1="138.91" x2="1700.6" y2="138.91" stroke="#000" stroke-width="1.6"/>
<line x1="1695.6" y1="135.91" x2="1700.6" y2="135.91" stroke="#000" stroke-width="1.6"/>
<line x1="1695.6" y1="133.31" x2="1700.6" y2="133.31" stroke="#000" stroke-width="1.6"/>
<line x1="1695.6" y1="131.01" x2="1700.6" y2="131.01" stroke="#000" stroke-width="1.6"/>
<text x="1688" y="183.62" font-size="22.5" font-weight="bold" text-anchor="end">10<tspan font-size="16.2" dx="-0.9" dy="-8.1">4</tspan></text>
<line x1="1691.6" y1="128.96" x2="1700.6" y2="128.96" stroke="#000" stroke-width="2.4"/>
<line x1="1695.6" y1="115.46" x2="1700.6" y2="115.46" stroke="#000" stroke-width="1.6"/>
<line x1="1695.6" y1="107.56" x2="1700.6" y2="107.56" stroke="#000" stroke-width="1.6"/>
<line x1="1695.6" y1="101.95" x2="1700.6" y2="101.95" stroke="#000" stroke-width="1.6"/>
<line x1="1695.6" y1="97.6" x2="1700.6" y2="97.6" stroke="#000" stroke-width="1.6"/>
<line x1="1695.6" y1="94.05" x2="1700.6" y2="94.05" stroke="#000" stroke-width="1.6"/>
<line x1="1695.6" y1="91.05" x2="1700.6" y2="91.05" stroke="#000" stroke-width="1.6"/>
<line x1="1695.6" y1="88.45" x2="1700.6" y2="88.45" stroke="#000" stroke-width="1.6"/>
<line x1="1695.6" y1="86.15" x2="1700.6" y2="86.15" stroke="#000" stroke-width="1.6"/>
<text x="1688" y="138.76" font-size="22.5" font-weight="bold" text-anchor="end">10<tspan font-size="16.2" dx="-0.9" dy="-8.1">5</tspan></text>
<line x1="1691.6" y1="84.1" x2="1700.6" y2="84.1" stroke="#000" stroke-width="2.4"/>
<text x="1688" y="93.9" font-size="22.5" font-weight="bold" text-anchor="end">10<tspan font-size="16.2" dx="-0.9" dy="-8.1">6</tspan></text>
<line x1="1743.4" y1="308.4" x2="1743.4" y2="314.4" stroke="#000" stroke-width="2.04"/>
<text x="1748.4" y="330.4" font-size="21.6" font-weight="bold" text-anchor="end" transform="rotate(-45 1748.4 330.4)">PBS LiNx</text>
<line x1="1809" y1="308.4" x2="1809" y2="314.4" stroke="#000" stroke-width="2.04"/>
<text x="1814" y="330.4" font-size="21.6" font-weight="bold" text-anchor="end" transform="rotate(-45 1814 330.4)">C10 mOVA LiNx</text>
<line x1="1874.9" y1="308.4" x2="1874.9" y2="314.4" stroke="#000" stroke-width="2.04"/>
<text x="1879.9" y="330.4" font-size="21.6" font-weight="bold" text-anchor="end" transform="rotate(-45 1879.9 330.4)">D6 mOVA LiNx</text>
<line x1="1940.9" y1="308.4" x2="1940.9" y2="314.4" stroke="#000" stroke-width="2.04"/>
<text x="1945.9" y="330.4" font-size="21.6" font-weight="bold" text-anchor="end" transform="rotate(-45 1945.9 330.4)">F5 mOVA LiNx</text>
<text x="1584.1" y="193" font-size="21.2" font-weight="bold" text-anchor="middle" transform="rotate(-90 1584.1 193)">Number of B cells</text>
<text x="1613.2" y="193" font-size="21.2" font-weight="bold" text-anchor="middle" transform="rotate(-90 1613.2 193)">(CD11b<tspan font-size="14" dy="-9">-</tspan><tspan dy="9"> CD19</tspan><tspan font-size="14" dy="-9">+</tspan><tspan dy="9">)</tspan></text>
<text x="1638.7" y="193" font-size="21.2" font-weight="bold" text-anchor="middle" transform="rotate(-90 1638.7 193)">within composite</text>
<circle cx="1725.6" cy="241.5" r="5.0" fill="none" stroke="#000000" stroke-width="2.0"/>
<circle cx="1760.9" cy="246.6" r="5.0" fill="none" stroke="#000000" stroke-width="2.0"/>
<circle cx="1743.4" cy="253.8" r="5.0" fill="none" stroke="#000000" stroke-width="2.0"/>
<circle cx="1743.4" cy="272.3" r="5.0" fill="none" stroke="#000000" stroke-width="2.0"/>
<circle cx="1725.6" cy="289.1" r="5.0" fill="none" stroke="#000000" stroke-width="2.0"/>
<circle cx="1743.4" cy="284" r="5.0" fill="none" stroke="#000000" stroke-width="2.0"/>
<circle cx="1760.9" cy="285.4" r="5.0" fill="none" stroke="#000000" stroke-width="2.0"/>
<line x1="1721.1" y1="260" x2="1765.1" y2="260" stroke="#000000" stroke-width="3.0"/>
<line x1="1743.4" y1="253.8" x2="1743.4" y2="268.1" stroke="#000000" stroke-width="1.5"/>
<line x1="1732" y1="253.8" x2="1754.7" y2="253.8" stroke="#000000" stroke-width="1.5"/>
<line x1="1732" y1="268.1" x2="1754.7" y2="268.1" stroke="#000000" stroke-width="1.5"/>
<circle cx="1800.1" cy="195" r="5.0" fill="none" stroke="#1a85ff" stroke-width="2.0"/>
<circle cx="1818.1" cy="198.3" r="5.0" fill="none" stroke="#1a85ff" stroke-width="2.0"/>
<circle cx="1809" cy="213.8" r="5.0" fill="none" stroke="#1a85ff" stroke-width="2.0"/>
<circle cx="1818.1" cy="234.5" r="5.0" fill="none" stroke="#1a85ff" stroke-width="2.0"/>
<circle cx="1800.1" cy="241.2" r="5.0" fill="none" stroke="#1a85ff" stroke-width="2.0"/>
<circle cx="1809" cy="256.3" r="5.0" fill="none" stroke="#1a85ff" stroke-width="2.0"/>
<circle cx="1809" cy="267.2" r="5.0" fill="none" stroke="#1a85ff" stroke-width="2.0"/>
<line x1="1787.1" y1="215.1" x2="1830.8" y2="215.1" stroke="#1a85ff" stroke-width="3.0"/>
<line x1="1809" y1="208.4" x2="1809" y2="225.5" stroke="#1a85ff" stroke-width="1.5"/>
<line x1="1798.4" y1="208.4" x2="1819.7" y2="208.4" stroke="#1a85ff" stroke-width="1.5"/>
<line x1="1798.4" y1="225.5" x2="1819.7" y2="225.5" stroke="#1a85ff" stroke-width="1.5"/>
<circle cx="1866.1" cy="128.1" r="5.0" fill="none" stroke="#0d3a87" stroke-width="2.0"/>
<circle cx="1884.5" cy="130.4" r="5.0" fill="none" stroke="#0d3a87" stroke-width="2.0"/>
<circle cx="1875.2" cy="140.8" r="5.0" fill="none" stroke="#0d3a87" stroke-width="2.0"/>
<circle cx="1875.2" cy="187.9" r="5.0" fill="none" stroke="#0d3a87" stroke-width="2.0"/>
<circle cx="1866.1" cy="210.9" r="5.0" fill="none" stroke="#0d3a87" stroke-width="2.0"/>
<circle cx="1884.5" cy="216.5" r="5.0" fill="none" stroke="#0d3a87" stroke-width="2.0"/>
<circle cx="1875.2" cy="238.3" r="5.0" fill="none" stroke="#0d3a87" stroke-width="2.0"/>
<line x1="1853" y1="148.4" x2="1896.7" y2="148.4" stroke="#0d3a87" stroke-width="3.0"/>
<line x1="1874.9" y1="140.3" x2="1874.9" y2="160.5" stroke="#0d3a87" stroke-width="1.5"/>
<line x1="1864" y1="140.3" x2="1886.3" y2="140.3" stroke="#0d3a87" stroke-width="1.5"/>
<line x1="1864" y1="160.5" x2="1886.3" y2="160.5" stroke="#0d3a87" stroke-width="1.5"/>
<circle cx="1932" cy="191.1" r="5.0" fill="none" stroke="#13800f" stroke-width="2.0"/>
<circle cx="1949.7" cy="193.6" r="5.0" fill="none" stroke="#13800f" stroke-width="2.0"/>
<circle cx="1932" cy="203.4" r="5.0" fill="none" stroke="#13800f" stroke-width="2.0"/>
<circle cx="1949.7" cy="207.6" r="5.0" fill="none" stroke="#13800f" stroke-width="2.0"/>
<circle cx="1932" cy="214.3" r="5.0" fill="none" stroke="#13800f" stroke-width="2.0"/>
<circle cx="1949.7" cy="216.8" r="5.0" fill="none" stroke="#13800f" stroke-width="2.0"/>
<circle cx="1940.9" cy="257.1" r="5.0" fill="none" stroke="#13800f" stroke-width="2.0"/>
<line x1="1919.4" y1="205" x2="1962.6" y2="205" stroke="#13800f" stroke-width="3.0"/>
<line x1="1940.9" y1="200.8" x2="1940.9" y2="210.4" stroke="#13800f" stroke-width="1.5"/>
<line x1="1930" y1="200.8" x2="1951.3" y2="200.8" stroke="#13800f" stroke-width="1.5"/>
<line x1="1930" y1="210.4" x2="1951.3" y2="210.4" stroke="#13800f" stroke-width="1.5"/>
<path d="M1809 188.2V48.7H1867.6V63" fill="none" stroke="#000" stroke-width="3.2"/>
<path d="M1888.8 63V48.7H1940.9V141.2" fill="none" stroke="#000" stroke-width="3.2"/>
<text x="1800.1" y="35.6" font-size="17" text-anchor="start"><tspan font-style="italic">P</tspan>=0.0376</text>
<text x="1881.6" y="35.6" font-size="17" text-anchor="start"><tspan font-style="italic">P</tspan>=0.0432</text>
<text x="1842.1" y="106.2" font-size="17" text-anchor="start"><tspan font-style="italic">P</tspan>=0.0312</text>
<text x="1835.9" y="23.5" font-size="22" font-weight="bold" text-anchor="middle">*</text>
<text x="1915.7" y="23.5" font-size="22" font-weight="bold" text-anchor="middle">*</text>
<text x="1876.6" y="93.5" font-size="22" font-weight="bold" text-anchor="middle">*</text>
<text x="1541" y="20" font-size="28" font-weight="bold">d</text>
<text x="9" y="541" font-size="28" font-weight="bold">e</text>
<path d="M388 734.61L388 608.11A126.5 126.5 0 0 1 398.96 608.58Z" fill="#138008"/>
<path d="M388.35 734.63L399.3 608.61A126.5 126.5 0 0 1 400.73 608.74Z" fill="#8b4010"/>
<path d="M393.87 744.91L406.25 619.02A126.5 126.5 0 1 1 295.84 824.87Z" fill="#138080"/>
<path d="M381.55 744.94L283.52 824.9A126.5 126.5 0 0 1 261.12 783.65Z" fill="#800080"/>
<path d="M381.32 738.72L260.89 777.43A126.5 126.5 0 0 1 330.79 622.75Z" fill="#fb800a"/>
<path d="M385.9 734.84L335.37 618.87A126.5 126.5 0 0 1 372.02 609.1Z" fill="#1480ff"/>
<path d="M387.32 734.61L373.43 608.87A126.5 126.5 0 0 1 387.32 608.11Z" fill="#fa0000"/>
<text x="190.5" y="592.1" font-size="20.7" font-weight="bold" text-anchor="middle">CD4 T cells</text>
<text x="190.5" y="617.6" font-size="20.7" font-weight="bold" text-anchor="middle">4.79%</text>
<text x="545.1" y="561.3" font-size="20.7" font-weight="bold" text-anchor="middle">CD8 T cells</text>
<text x="545.1" y="586.8" font-size="20.7" font-weight="bold" text-anchor="middle">1.75%</text>
<text x="651.95" y="592.1" font-size="20.7" font-weight="bold" text-anchor="middle">B cells</text>
<text x="651.95" y="617.6" font-size="20.7" font-weight="bold" text-anchor="middle">1.38%</text>
<text x="66.45" y="678.9" font-size="20.7" font-weight="bold" text-anchor="middle">Macrophages</text>
<text x="66.45" y="704.4" font-size="20.7" font-weight="bold" text-anchor="middle">23.41%</text>
<text x="93.55" y="812.7" font-size="20.7" font-weight="bold" text-anchor="middle">DCs</text>
<text x="93.55" y="838.2" font-size="20.7" font-weight="bold" text-anchor="middle">5.94%</text>
<text x="680.1" y="827" font-size="20.7" font-weight="bold" text-anchor="middle">Neutrophils</text>
<text x="680.1" y="852.5" font-size="20.7" font-weight="bold" text-anchor="middle">62.55%</text>
<text x="388.55" y="928.4" font-size="24.5" font-weight="bold" text-anchor="middle">PBS LiNx</text>
<path d="M246 597.9 L345.2 597.9 L355.6 621.8" fill="none" stroke="#000" stroke-width="3.6" stroke-linejoin="miter" stroke-linecap="round"/>
<path d="M381 616 L381 567 L482.8 567" fill="none" stroke="#000" stroke-width="3.6" stroke-linejoin="miter" stroke-linecap="round"/>
<path d="M393.4 616 L395.3 597.9 L600.5 597.9" fill="none" stroke="#000" stroke-width="3.6" stroke-linejoin="miter" stroke-linecap="round"/>
<path d="M148.5 682.8 L236 682.8 L279.6 699" fill="none" stroke="#000" stroke-width="3.6" stroke-linejoin="miter" stroke-linecap="round"/>
<path d="M148.5 817.7 L244.9 817.7 L283.5 798.5" fill="none" stroke="#000" stroke-width="3.6" stroke-linejoin="miter" stroke-linecap="round"/>
<path d="M484.8 805 L520.6 832 L609.3 832" fill="none" stroke="#000" stroke-width="3.6" stroke-linejoin="miter" stroke-linecap="round"/>
<path d="M1192.09 729.65L1192.09 600.65A129 129 0 0 1 1250.29 614.52Z" fill="#138008"/>
<path d="M1194.14 730.41L1252.34 615.29A129 129 0 0 1 1254.65 616.48Z" fill="#8b4010"/>
<path d="M1197.48 743.4L1257.99 629.47A129 129 0 1 1 1115.32 842.85Z" fill="#138080"/>
<path d="M1183.39 744.51L1101.23 843.96A129 129 0 0 1 1077.85 818.69Z" fill="#800080"/>
<path d="M1181.05 739.32L1075.51 813.49A129 129 0 0 1 1062.66 688.09Z" fill="#fb800a"/>
<path d="M1183.64 732.03L1065.25 680.8A129 129 0 0 1 1132.71 613.51Z" fill="#1480ff"/>
<path d="M1188.19 729.58L1137.25 611.07A129 129 0 0 1 1188.19 600.58Z" fill="#fa0000"/>
<text x="980.4" y="582.5" font-size="20.7" font-weight="bold" text-anchor="middle">CD8 T cells</text>
<text x="980.4" y="608" font-size="20.7" font-weight="bold" text-anchor="middle">6.46%</text>
<text x="1423.95" y="582.5" font-size="20.7" font-weight="bold" text-anchor="middle">B cells</text>
<text x="1423.95" y="608" font-size="20.7" font-weight="bold" text-anchor="middle">7.45%</text>
<text x="860.3" y="623.8" font-size="20.7" font-weight="bold" text-anchor="middle">CD4 T cells</text>
<text x="860.3" y="649.3" font-size="20.7" font-weight="bold" text-anchor="middle">12.04%</text>
<text x="851.05" y="753" font-size="20.7" font-weight="bold" text-anchor="middle">Macrophages</text>
<text x="851.05" y="778.5" font-size="20.7" font-weight="bold" text-anchor="middle">16.25%</text>
<text x="949.95" y="837.8" font-size="20.7" font-weight="bold" text-anchor="middle">DCs</text>
<text x="949.95" y="863.3" font-size="20.7" font-weight="bold" text-anchor="middle">4.26%</text>
<text x="1471" y="828.2" font-size="20.7" font-weight="bold" text-anchor="middle">Neutrophils</text>
<text x="1471" y="853.7" font-size="20.7" font-weight="bold" text-anchor="middle">53.22%</text>
<text x="1190.55" y="934.2" font-size="24.5" font-weight="bold" text-anchor="middle">C10 mOVA LiNx</text>
<path d="M1037.3 589.1 L1162.6 589.1 L1169.2 619.1" fill="none" stroke="#000" stroke-width="3.6" stroke-linejoin="miter" stroke-linecap="round"/>
<path d="M1221.3 615.3 L1229 589.1 L1377.8 589.1" fill="none" stroke="#000" stroke-width="3.6" stroke-linejoin="miter" stroke-linecap="round"/>
<path d="M916.6 630.7 L1073.9 630.7 L1100.2 653.5" fill="none" stroke="#000" stroke-width="3.6" stroke-linejoin="miter" stroke-linecap="round"/>
<path d="M916.6 763.4 L1029.6 763.4 L1069.3 754.1" fill="none" stroke="#000" stroke-width="3.6" stroke-linejoin="miter" stroke-linecap="round"/>
<path d="M991 843.6 L1073.2 843.6 L1097.1 828.2" fill="none" stroke="#000" stroke-width="3.6" stroke-linejoin="miter" stroke-linecap="round"/>
<path d="M1286 808.9 L1322.7 833.9 L1402.5 833.9" fill="none" stroke="#000" stroke-width="3.6" stroke-linejoin="miter" stroke-linecap="round"/>
<path d="M396.97 1214.12L396.97 1086.62A127.5 127.5 0 0 1 522.32 1190.78Z" fill="#138008"/>
<path d="M399.39 1218.24L524.73 1194.9A127.5 127.5 0 0 1 524.9 1195.85Z" fill="#8b4010"/>
<path d="M397.8 1224.07L523.32 1201.68A127.5 127.5 0 0 1 394.04 1351.52Z" fill="#138080"/>
<path d="M392.25 1226.5L388.48 1353.94A127.5 127.5 0 0 1 386.88 1353.88Z" fill="#800080"/>
<path d="M391.72 1226.46L386.36 1353.84A127.5 127.5 0 0 1 368.86 1351.89Z" fill="#fb800a"/>
<path d="M386.42 1222.98L363.56 1348.41A127.5 127.5 0 0 1 266.71 1179.11Z" fill="#1480ff"/>
<path d="M388.49 1213.76L268.78 1169.89A127.5 127.5 0 0 1 388.49 1086.26Z" fill="#fa0000"/>
<text x="100.25" y="1087.9" font-size="20.7" font-weight="bold" text-anchor="middle">CD8 T cells</text>
<text x="100.25" y="1113.4" font-size="20.7" font-weight="bold" text-anchor="middle">19.41%</text>
<text x="635.4" y="1096.4" font-size="20.7" font-weight="bold" text-anchor="middle">B cells</text>
<text x="635.4" y="1121.9" font-size="20.7" font-weight="bold" text-anchor="middle">22.07%</text>
<text x="68.05" y="1286.5" font-size="20.7" font-weight="bold" text-anchor="middle">CD4 T cells</text>
<text x="68.05" y="1312" font-size="20.7" font-weight="bold" text-anchor="middle">27.72%</text>
<text x="657.15" y="1320.1" font-size="20.7" font-weight="bold" text-anchor="middle">Neutrophils</text>
<text x="657.15" y="1345.6" font-size="20.7" font-weight="bold" text-anchor="middle">28.28%</text>
<text x="155.25" y="1366.4" font-size="20.7" font-weight="bold" text-anchor="middle">Macrophages</text>
<text x="155.25" y="1391.9" font-size="20.7" font-weight="bold" text-anchor="middle">2.20%</text>
<text x="393.95" y="1427.3" font-size="24.5" font-weight="bold" text-anchor="middle">D6 mOVA LiNx</text>
<path d="M172.8 1091.8 L303.9 1091.8 L325.9 1120.3" fill="none" stroke="#000" stroke-width="3.6" stroke-linejoin="miter" stroke-linecap="round"/>
<path d="M463.6 1124.6 L490.6 1100.3 L585 1100.3" fill="none" stroke="#000" stroke-width="3.6" stroke-linejoin="miter" stroke-linecap="round"/>
<path d="M143.5 1293.9 L274.6 1293.9 L304.7 1269.2" fill="none" stroke="#000" stroke-width="3.6" stroke-linejoin="miter" stroke-linecap="round"/>
<path d="M470.5 1295 L502.1 1324 L595.8 1324" fill="none" stroke="#000" stroke-width="3.6" stroke-linejoin="miter" stroke-linecap="round"/>
<path d="M241 1373.3 L374.1 1373.3 L379.9 1341.3" fill="none" stroke="#000" stroke-width="3.6" stroke-linejoin="miter" stroke-linecap="round"/>
<path d="M1189.14 1235.31L1189.14 1101.31A134 134 0 0 1 1200.66 1101.8Z" fill="#138008"/>
<path d="M1189.5 1235.33L1201.02 1101.83A134 134 0 0 1 1201.27 1101.85Z" fill="#8b4010"/>
<path d="M1191.73 1250.75L1203.5 1117.26A134 134 0 1 1 1092.22 1161Z" fill="#138080"/>
<path d="M1183.26 1237.53L1083.75 1147.78A134 134 0 0 1 1097.65 1134.44Z" fill="#800080"/>
<path d="M1185.15 1236.18L1099.54 1133.09A134 134 0 0 1 1151.42 1106.5Z" fill="#fb800a"/>
<path d="M1187.48 1235.41L1153.75 1105.72A134 134 0 0 1 1177.13 1101.81Z" fill="#1480ff"/>
<path d="M1188.49 1235.31L1178.15 1101.71A134 134 0 0 1 1188.49 1101.31Z" fill="#fa0000"/>
<text x="1122.9" y="1044.4" font-size="20.7" font-weight="bold" text-anchor="middle">CD4 T cells</text>
<text x="1122.9" y="1069.9" font-size="20.7" font-weight="bold" text-anchor="middle">2.82%</text>
<text x="1251.85" y="1044.4" font-size="20.7" font-weight="bold" text-anchor="middle">CD8 T cells</text>
<text x="1251.85" y="1069.9" font-size="20.7" font-weight="bold" text-anchor="middle">1.23%</text>
<text x="1420.75" y="1079" font-size="20.7" font-weight="bold" text-anchor="middle">B cells</text>
<text x="1420.75" y="1104.5" font-size="20.7" font-weight="bold" text-anchor="middle">1.37%</text>
<text x="970.05" y="1088.4" font-size="20.7" font-weight="bold" text-anchor="middle">Macrophages</text>
<text x="970.05" y="1113.9" font-size="20.7" font-weight="bold" text-anchor="middle">6.98%</text>
<text x="846.65" y="1123.4" font-size="20.7" font-weight="bold" text-anchor="middle">DCs</text>
<text x="846.65" y="1148.9" font-size="20.7" font-weight="bold" text-anchor="middle">2.29%</text>
<text x="1468.45" y="1339.4" font-size="20.7" font-weight="bold" text-anchor="middle">Neutrophils</text>
<text x="1468.45" y="1364.9" font-size="20.7" font-weight="bold" text-anchor="middle">85.28%</text>
<text x="1189.35" y="1426.6" font-size="24.5" font-weight="bold" text-anchor="middle">F5 mOVA LiNx</text>
<path d="M1165 1108.6 L1157.9 1083.2" fill="none" stroke="#000" stroke-width="3.6" stroke-linejoin="miter" stroke-linecap="round"/>
<path d="M1182.9 1108.6 L1207.9 1062.7" fill="none" stroke="#000" stroke-width="3.6" stroke-linejoin="miter" stroke-linecap="round"/>
<path d="M1197.1 1110 L1216.8 1087.5 L1373.2 1087.5" fill="none" stroke="#000" stroke-width="3.6" stroke-linejoin="miter" stroke-linecap="round"/>
<path d="M1131 1131.4 L1112.3 1095.2 L1052.5 1095.2" fill="none" stroke="#000" stroke-width="3.6" stroke-linejoin="miter" stroke-linecap="round"/>
<path d="M894 1129.6 L1081.1 1129.6 L1098.8 1147.3" fill="none" stroke="#000" stroke-width="3.6" stroke-linejoin="miter" stroke-linecap="round"/>
<path d="M1270.4 1317.1 L1305.2 1345.6 L1403.2 1345.6" fill="none" stroke="#000" stroke-width="3.6" stroke-linejoin="miter" stroke-linecap="round"/>
<text x="1539" y="541" font-size="28" font-weight="bold">g</text>
<path d="M1778.2 639.5L1773.54 550.62A89 89 0 0 1 1805.11 554.67Z" fill="#200000" stroke="#000" stroke-width="1.4" stroke-linejoin="miter"/>
<path d="M1778.2 639.5L1805.11 554.67A89 89 0 0 1 1833.12 569.46Z" fill="#33a000" stroke="#000" stroke-width="1.4" stroke-linejoin="miter"/>
<path d="M1778.2 639.5L1833.12 569.46A89 89 0 0 1 1854.49 593.66Z" fill="#33a000" stroke="#000" stroke-width="1.4" stroke-linejoin="miter"/>
<path d="M1778.2 639.5L1854.49 593.66A89 89 0 0 1 1865.79 623.74Z" fill="#1a0000" stroke="#000" stroke-width="1.4" stroke-linejoin="miter"/>
<path d="M1778.2 639.5L1865.79 623.74A89 89 0 0 1 1865.77 655.41Z" fill="#44cc00" stroke="#000" stroke-width="1.4" stroke-linejoin="miter"/>
<path d="M1778.2 639.5L1865.77 655.41A89 89 0 0 1 1854.49 685.34Z" fill="#901000" stroke="#000" stroke-width="1.4" stroke-linejoin="miter"/>
<path d="M1778.2 639.5L1854.49 685.34A89 89 0 0 1 1831.76 710.58Z" fill="#000000" stroke="#000" stroke-width="1.4" stroke-linejoin="miter"/>
<path d="M1778.2 639.5L1831.76 710.58A89 89 0 0 1 1803.33 724.88Z" fill="#e02000" stroke="#000" stroke-width="1.4" stroke-linejoin="miter"/>
<path d="M1778.2 639.5L1781.15 728.45A89 89 0 0 1 1749.52 723.75Z" fill="#ee2200" stroke="#000" stroke-width="1.4" stroke-linejoin="miter"/>
<path d="M1778.2 639.5L1749.52 723.75A89 89 0 0 1 1721.35 707.98Z" fill="#3cbb00" stroke="#000" stroke-width="1.4" stroke-linejoin="miter"/>
<path d="M1778.2 639.5L1721.35 707.98A89 89 0 0 1 1700.81 683.46Z" fill="#2a8a00" stroke="#000" stroke-width="1.4" stroke-linejoin="miter"/>
<path d="M1778.2 639.5L1700.81 683.46A89 89 0 0 1 1690.27 653.27Z" fill="#2a8000" stroke="#000" stroke-width="1.4" stroke-linejoin="miter"/>
<path d="M1778.2 639.5L1689.34 634.53A89 89 0 0 1 1696.96 603.16Z" fill="#33aa00" stroke="#000" stroke-width="1.4" stroke-linejoin="miter"/>
<path d="M1778.2 639.5L1696.96 603.16A89 89 0 0 1 1715.27 576.57Z" fill="#0a3000" stroke="#000" stroke-width="1.4" stroke-linejoin="miter"/>
<path d="M1778.2 639.5L1715.27 576.57A89 89 0 0 1 1740.73 558.77Z" fill="#c01800" stroke="#000" stroke-width="1.4" stroke-linejoin="miter"/>
<line x1="1789.82" y1="548.82" x2="1790.49" y2="543.55" stroke="#333" stroke-width="1"/>
<line x1="1820.91" y1="558.67" x2="1823.39" y2="553.97" stroke="#333" stroke-width="1"/>
<line x1="1846.72" y1="578.98" x2="1850.71" y2="575.46" stroke="#333" stroke-width="1"/>
<line x1="1863.77" y1="607.34" x2="1868.75" y2="605.46" stroke="#333" stroke-width="1"/>
<line x1="1869.62" y1="639.58" x2="1874.94" y2="639.58" stroke="#333" stroke-width="1"/>
<line x1="1863.74" y1="671.74" x2="1868.72" y2="673.61" stroke="#333" stroke-width="1"/>
<line x1="1846.14" y1="700.67" x2="1850.09" y2="704.23" stroke="#333" stroke-width="1"/>
<line x1="1819.28" y1="721.17" x2="1821.67" y2="725.92" stroke="#333" stroke-width="1"/>
<line x1="1764.77" y1="729.93" x2="1763.99" y2="735.19" stroke="#333" stroke-width="1"/>
<line x1="1733.53" y1="719.26" x2="1730.93" y2="723.9" stroke="#333" stroke-width="1"/>
<line x1="1708.12" y1="698.2" x2="1704.04" y2="701.62" stroke="#333" stroke-width="1"/>
<line x1="1691.89" y1="669.64" x2="1686.87" y2="671.39" stroke="#333" stroke-width="1"/>
<line x1="1689.36" y1="617.93" x2="1684.2" y2="616.67" stroke="#333" stroke-width="1"/>
<line x1="1702.91" y1="587.65" x2="1698.53" y2="584.64" stroke="#333" stroke-width="1"/>
<line x1="1725.83" y1="564.57" x2="1722.78" y2="560.21" stroke="#333" stroke-width="1"/>
<path d="M1798.78 501.78A139.25 139.25 0 0 1 1813.77 774.13" fill="none" stroke="#000" stroke-width="1.6"/>
<line x1="1915.5" y1="616.28" x2="1923.13" y2="614.99" stroke="#000" stroke-width="1.6"/>
<path d="M1638.75 624.84A140.22 140.22 0 0 1 1717.62 513.05" fill="none" stroke="#000" stroke-width="1.6"/>
<line x1="1662.51" y1="560.28" x2="1654.53" y2="554.82" stroke="#000" stroke-width="1.6"/>
<path d="M1773.34 778.66A139.25 139.25 0 0 1 1641.15 664.16" fill="none" stroke="#000" stroke-width="1.6"/>
<line x1="1687.21" y1="744.91" x2="1680.89" y2="752.23" stroke="#000" stroke-width="1.6"/>
<text x="1765.6" y="540.2" font-size="13.4" fill="#1a1a1a">TBX21</text>
<text x="1817.6" y="552.3" font-size="13.4" fill="#1a1a1a">IFN-γ</text>
<text x="1859.9" y="581.3" font-size="13.4" fill="#1a1a1a">TNF</text>
<text x="1868.3" y="609.1" font-size="13.4" fill="#1a1a1a">GZMB</text>
<text x="1873.2" y="646.1" font-size="13.4" fill="#1a1a1a">NOS-2</text>
<text x="1867.1" y="683.5" font-size="13.4" fill="#1a1a1a">IL-12α</text>
<text x="1849" y="716.6" font-size="13.4" fill="#1a1a1a">IL-15</text>
<text x="1811.5" y="739.6" font-size="13.4" fill="#1a1a1a">IL-2</text>
<text x="1752.8" y="751.7" font-size="13.4" fill="#1a1a1a">IL-6</text>
<text x="1707.6" y="739.1" font-size="13.4" fill="#1a1a1a">IL-1α</text>
<text x="1666.5" y="715.4" font-size="13.4" fill="#1a1a1a">CSF-3</text>
<text x="1643.6" y="682.8" font-size="13.4" fill="#1a1a1a">CXCL10</text>
<text x="1648.9" y="617.5" font-size="13.4" fill="#1a1a1a">IL-13</text>
<text x="1659.3" y="584.4" font-size="13.4" fill="#1a1a1a">CCR4</text>
<text x="1698" y="558.8" font-size="13.4" fill="#1a1a1a">IL-4</text>
<text x="1613.4" y="545" font-size="21.27" font-weight="bold">Th2</text>
<text x="1938.4" y="622.4" font-size="21.27" font-weight="bold">Th1</text>
<text x="1640.9" y="777" font-size="12.76" font-weight="bold" text-anchor="middle" fill="#1a1a1a">Inflammatory</text>
<text x="1640.9" y="792.7" font-size="12.76" font-weight="bold" text-anchor="middle" fill="#1a1a1a">cytokine</text>
<text x="1779.5" y="831" font-size="23.5" font-weight="bold" text-anchor="middle">C10 mOVA LiNx</text>
<path d="M1784 997.1L1779.21 905.73A91.5 91.5 0 0 1 1811.67 909.88Z" fill="#a01800" stroke="#000" stroke-width="1.4" stroke-linejoin="miter"/>
<path d="M1784 997.1L1811.67 909.88A91.5 91.5 0 0 1 1840.46 925.1Z" fill="#f02800" stroke="#000" stroke-width="1.4" stroke-linejoin="miter"/>
<path d="M1784 997.1L1840.46 925.1A91.5 91.5 0 0 1 1862.43 949.97Z" fill="#a01800" stroke="#000" stroke-width="1.4" stroke-linejoin="miter"/>
<path d="M1784 997.1L1862.43 949.97A91.5 91.5 0 0 1 1874.05 980.9Z" fill="#f02800" stroke="#000" stroke-width="1.4" stroke-linejoin="miter"/>
<path d="M1784 997.1L1874.05 980.9A91.5 91.5 0 0 1 1874.03 1013.46Z" fill="#f42800" stroke="#000" stroke-width="1.4" stroke-linejoin="miter"/>
<path d="M1784 997.1L1874.03 1013.46A91.5 91.5 0 0 1 1862.43 1044.23Z" fill="#3a0000" stroke="#000" stroke-width="1.4" stroke-linejoin="miter"/>
<path d="M1784 997.1L1862.43 1044.23A91.5 91.5 0 0 1 1839.07 1070.18Z" fill="#a81800" stroke="#000" stroke-width="1.4" stroke-linejoin="miter"/>
<path d="M1784 997.1L1839.07 1070.18A91.5 91.5 0 0 1 1809.83 1084.88Z" fill="#f02800" stroke="#000" stroke-width="1.4" stroke-linejoin="miter"/>
<path d="M1784 997.1L1787.03 1088.55A91.5 91.5 0 0 1 1754.51 1083.72Z" fill="#f02800" stroke="#000" stroke-width="1.4" stroke-linejoin="miter"/>
<path d="M1784 997.1L1754.51 1083.72A91.5 91.5 0 0 1 1725.55 1067.5Z" fill="#f02800" stroke="#000" stroke-width="1.4" stroke-linejoin="miter"/>
<path d="M1784 997.1L1725.55 1067.5A91.5 91.5 0 0 1 1704.44 1042.3Z" fill="#f02800" stroke="#000" stroke-width="1.4" stroke-linejoin="miter"/>
<path d="M1784 997.1L1704.44 1042.3A91.5 91.5 0 0 1 1693.6 1011.26Z" fill="#f02800" stroke="#000" stroke-width="1.4" stroke-linejoin="miter"/>
<path d="M1784 997.1L1692.64 991.99A91.5 91.5 0 0 1 1700.48 959.74Z" fill="#f02800" stroke="#000" stroke-width="1.4" stroke-linejoin="miter"/>
<path d="M1784 997.1L1700.48 959.74A91.5 91.5 0 0 1 1719.3 932.4Z" fill="#f02800" stroke="#000" stroke-width="1.4" stroke-linejoin="miter"/>
<path d="M1784 997.1L1719.3 932.4A91.5 91.5 0 0 1 1745.48 914.11Z" fill="#f02800" stroke="#000" stroke-width="1.4" stroke-linejoin="miter"/>
<line x1="1795.94" y1="903.86" x2="1796.64" y2="898.41" stroke="#333" stroke-width="1"/>
<line x1="1827.91" y1="913.99" x2="1830.48" y2="909.12" stroke="#333" stroke-width="1"/>
<line x1="1854.46" y1="934.88" x2="1858.58" y2="931.23" stroke="#333" stroke-width="1"/>
<line x1="1871.99" y1="964.03" x2="1877.14" y2="962.09" stroke="#333" stroke-width="1"/>
<line x1="1878" y1="997.18" x2="1883.5" y2="997.19" stroke="#333" stroke-width="1"/>
<line x1="1871.96" y1="1030.25" x2="1877.11" y2="1032.19" stroke="#333" stroke-width="1"/>
<line x1="1853.86" y1="1060" x2="1857.94" y2="1063.68" stroke="#333" stroke-width="1"/>
<line x1="1826.24" y1="1081.08" x2="1828.71" y2="1085.99" stroke="#333" stroke-width="1"/>
<line x1="1770.19" y1="1090.08" x2="1769.38" y2="1095.52" stroke="#333" stroke-width="1"/>
<line x1="1738.07" y1="1079.11" x2="1735.38" y2="1083.91" stroke="#333" stroke-width="1"/>
<line x1="1711.94" y1="1057.46" x2="1707.72" y2="1060.99" stroke="#333" stroke-width="1"/>
<line x1="1695.26" y1="1028.09" x2="1690.06" y2="1029.9" stroke="#333" stroke-width="1"/>
<line x1="1692.65" y1="974.92" x2="1687.31" y2="973.62" stroke="#333" stroke-width="1"/>
<line x1="1706.58" y1="943.79" x2="1702.05" y2="940.67" stroke="#333" stroke-width="1"/>
<line x1="1730.15" y1="920.05" x2="1727" y2="915.54" stroke="#333" stroke-width="1"/>
<path d="M1805.28 854.68A144 144 0 0 1 1820.78 1136.32" fill="none" stroke="#000" stroke-width="1.6"/>
<line x1="1925.98" y1="973.09" x2="1933.87" y2="971.75" stroke="#000" stroke-width="1.6"/>
<path d="M1639.79 981.94A145 145 0 0 1 1721.35 866.33" fill="none" stroke="#000" stroke-width="1.6"/>
<line x1="1664.36" y1="915.18" x2="1656.11" y2="909.53" stroke="#000" stroke-width="1.6"/>
<path d="M1778.97 1141.01A144 144 0 0 1 1642.28 1022.6" fill="none" stroke="#000" stroke-width="1.6"/>
<line x1="1689.91" y1="1106.11" x2="1683.37" y2="1113.68" stroke="#000" stroke-width="1.6"/>
<text x="1771.5" y="893" font-size="13.5" fill="#1a1a1a">TBX21</text>
<text x="1824.3" y="905.4" font-size="13.5" fill="#1a1a1a">IFN-γ</text>
<text x="1867.7" y="936.7" font-size="13.5" fill="#1a1a1a">TNF</text>
<text x="1876.7" y="964.3" font-size="13.5" fill="#1a1a1a">GZMB</text>
<text x="1882.4" y="1003.2" font-size="13.5" fill="#1a1a1a">NOS-2</text>
<text x="1875.6" y="1041.2" font-size="13.5" fill="#1a1a1a">IL-12α</text>
<text x="1857.5" y="1076.2" font-size="13.5" fill="#1a1a1a">IL-15</text>
<text x="1819" y="1100" font-size="13.5" fill="#1a1a1a">IL-2</text>
<text x="1758" y="1112.4" font-size="13.5" fill="#1a1a1a">IL-6</text>
<text x="1717.2" y="1100" font-size="13.5" fill="#1a1a1a">IL-1α</text>
<text x="1675.8" y="1076.7" font-size="13.5" fill="#1a1a1a">CSF-3</text>
<text x="1646.7" y="1041.2" font-size="13.5" fill="#1a1a1a">CXCL10</text>
<text x="1651.6" y="974.4" font-size="13.5" fill="#1a1a1a">IL-13</text>
<text x="1662.3" y="940.5" font-size="13.5" fill="#1a1a1a">CCR4</text>
<text x="1702.5" y="914" font-size="13.5" fill="#1a1a1a">IL-4</text>
<text x="1614.3" y="899.3" font-size="22" font-weight="bold">Th2</text>
<text x="1948" y="977.8" font-size="22" font-weight="bold">Th1</text>
<text x="1643.2" y="1139.1" font-size="13.2" font-weight="bold" text-anchor="middle" fill="#1a1a1a">Inflammatory</text>
<text x="1643.2" y="1154.3" font-size="13.2" font-weight="bold" text-anchor="middle" fill="#1a1a1a">cytokine</text>
<text x="1781.15" y="1191.6" font-size="23.5" font-weight="bold" text-anchor="middle">D6 mOVA LiNx</text>
<path d="M1785.1 1371L1780.29 1279.13A92 92 0 0 1 1812.92 1283.31Z" fill="#1f6a00" stroke="#000" stroke-width="1.4" stroke-linejoin="miter"/>
<path d="M1785.1 1371L1812.92 1283.31A92 92 0 0 1 1841.87 1298.6Z" fill="#051a00" stroke="#000" stroke-width="1.4" stroke-linejoin="miter"/>
<path d="M1785.1 1371L1841.87 1298.6A92 92 0 0 1 1863.96 1323.62Z" fill="#38a800" stroke="#000" stroke-width="1.4" stroke-linejoin="miter"/>
<path d="M1785.1 1371L1863.96 1323.62A92 92 0 0 1 1875.65 1354.71Z" fill="#3cb800" stroke="#000" stroke-width="1.4" stroke-linejoin="miter"/>
<path d="M1785.1 1371L1875.65 1354.71A92 92 0 0 1 1875.62 1387.45Z" fill="#44cc00" stroke="#000" stroke-width="1.4" stroke-linejoin="miter"/>
<path d="M1785.1 1371L1875.62 1387.45A92 92 0 0 1 1863.96 1418.38Z" fill="#1f6000" stroke="#000" stroke-width="1.4" stroke-linejoin="miter"/>
<path d="M1785.1 1371L1863.96 1418.38A92 92 0 0 1 1840.47 1444.47Z" fill="#246800" stroke="#000" stroke-width="1.4" stroke-linejoin="miter"/>
<path d="M1785.1 1371L1840.47 1444.47A92 92 0 0 1 1811.08 1459.26Z" fill="#f02800" stroke="#000" stroke-width="1.4" stroke-linejoin="miter"/>
<path d="M1785.1 1371L1788.15 1462.95A92 92 0 0 1 1755.45 1458.09Z" fill="#2f8e00" stroke="#000" stroke-width="1.4" stroke-linejoin="miter"/>
<path d="M1785.1 1371L1755.45 1458.09A92 92 0 0 1 1726.33 1441.78Z" fill="#3cb400" stroke="#000" stroke-width="1.4" stroke-linejoin="miter"/>
<path d="M1785.1 1371L1726.33 1441.78A92 92 0 0 1 1705.11 1416.44Z" fill="#38a800" stroke="#000" stroke-width="1.4" stroke-linejoin="miter"/>
<path d="M1785.1 1371L1705.11 1416.44A92 92 0 0 1 1694.21 1385.23Z" fill="#2a8000" stroke="#000" stroke-width="1.4" stroke-linejoin="miter"/>
<path d="M1785.1 1371L1693.24 1365.86A92 92 0 0 1 1701.12 1333.43Z" fill="#2f9000" stroke="#000" stroke-width="1.4" stroke-linejoin="miter"/>
<path d="M1785.1 1371L1701.12 1333.43A92 92 0 0 1 1720.05 1305.95Z" fill="#f02800" stroke="#000" stroke-width="1.4" stroke-linejoin="miter"/>
<path d="M1785.1 1371L1720.05 1305.95A92 92 0 0 1 1746.36 1287.55Z" fill="#1c5400" stroke="#000" stroke-width="1.4" stroke-linejoin="miter"/>
<line x1="1797.11" y1="1277.27" x2="1797.81" y2="1271.81" stroke="#333" stroke-width="1"/>
<line x1="1829.25" y1="1287.45" x2="1831.82" y2="1282.58" stroke="#333" stroke-width="1"/>
<line x1="1855.93" y1="1308.44" x2="1860.05" y2="1304.8" stroke="#333" stroke-width="1"/>
<line x1="1873.56" y1="1337.75" x2="1878.71" y2="1335.82" stroke="#333" stroke-width="1"/>
<line x1="1879.6" y1="1371.08" x2="1885.1" y2="1371.09" stroke="#333" stroke-width="1"/>
<line x1="1873.53" y1="1404.33" x2="1878.68" y2="1406.27" stroke="#333" stroke-width="1"/>
<line x1="1855.33" y1="1434.23" x2="1859.41" y2="1437.91" stroke="#333" stroke-width="1"/>
<line x1="1827.56" y1="1455.42" x2="1830.03" y2="1460.34" stroke="#333" stroke-width="1"/>
<line x1="1771.21" y1="1464.47" x2="1770.41" y2="1469.91" stroke="#333" stroke-width="1"/>
<line x1="1738.93" y1="1453.45" x2="1736.24" y2="1458.25" stroke="#333" stroke-width="1"/>
<line x1="1712.66" y1="1431.68" x2="1708.44" y2="1435.21" stroke="#333" stroke-width="1"/>
<line x1="1695.88" y1="1402.16" x2="1690.69" y2="1403.97" stroke="#333" stroke-width="1"/>
<line x1="1693.27" y1="1348.7" x2="1687.92" y2="1347.4" stroke="#333" stroke-width="1"/>
<line x1="1707.27" y1="1317.41" x2="1702.74" y2="1314.29" stroke="#333" stroke-width="1"/>
<line x1="1730.96" y1="1293.54" x2="1727.81" y2="1289.03" stroke="#333" stroke-width="1"/>
<path d="M1806.38 1228.58A144 144 0 0 1 1821.88 1510.22" fill="none" stroke="#000" stroke-width="1.6"/>
<line x1="1927.08" y1="1346.99" x2="1934.97" y2="1345.65" stroke="#000" stroke-width="1.6"/>
<path d="M1640.89 1355.84A145 145 0 0 1 1722.45 1240.23" fill="none" stroke="#000" stroke-width="1.6"/>
<line x1="1665.46" y1="1289.08" x2="1657.21" y2="1283.43" stroke="#000" stroke-width="1.6"/>
<path d="M1780.07 1514.91A144 144 0 0 1 1643.38 1396.5" fill="none" stroke="#000" stroke-width="1.6"/>
<line x1="1691.01" y1="1480.01" x2="1684.47" y2="1487.58" stroke="#000" stroke-width="1.6"/>
<text x="1771.5" y="1264.7" font-size="13.5" fill="#1a1a1a">TBX21</text>
<text x="1825.2" y="1278.2" font-size="13.5" fill="#1a1a1a">IFN-γ</text>
<text x="1868.8" y="1308.8" font-size="13.5" fill="#1a1a1a">TNF</text>
<text x="1879" y="1338.2" font-size="13.5" fill="#1a1a1a">GZMB</text>
<text x="1883.5" y="1376.6" font-size="13.5" fill="#1a1a1a">NOS-2</text>
<text x="1877.9" y="1413.5" font-size="13.5" fill="#1a1a1a">IL-12α</text>
<text x="1859.8" y="1449" font-size="13.5" fill="#1a1a1a">IL-15</text>
<text x="1820.2" y="1473.9" font-size="13.5" fill="#1a1a1a">IL-2</text>
<text x="1758" y="1486.4" font-size="13.5" fill="#1a1a1a">IL-6</text>
<text x="1717.2" y="1473.9" font-size="13.5" fill="#1a1a1a">IL-1α</text>
<text x="1675.4" y="1450.6" font-size="13.5" fill="#1a1a1a">CSF-3</text>
<text x="1645.5" y="1414.4" font-size="13.5" fill="#1a1a1a">CXCL10</text>
<text x="1651" y="1346.6" font-size="13.5" fill="#1a1a1a">IL-13</text>
<text x="1661.8" y="1312.2" font-size="13.5" fill="#1a1a1a">CCR4</text>
<text x="1702.1" y="1285.5" font-size="13.5" fill="#1a1a1a">IL-4</text>
<text x="1613.2" y="1270.3" font-size="22" font-weight="bold">Th2</text>
<text x="1952.5" y="1351.1" font-size="22" font-weight="bold">Th1</text>
<text x="1642.3" y="1513.5" font-size="13.2" font-weight="bold" text-anchor="middle" fill="#1a1a1a">Inflammatory</text>
<text x="1642.3" y="1529.4" font-size="13.2" font-weight="bold" text-anchor="middle" fill="#1a1a1a">cytokine</text>
<text x="1788.5" y="1597.2" font-size="23.5" font-weight="bold" text-anchor="middle">F5 mOVA LiNx</text>
<defs><linearGradient id="cbg" x1="0" y1="1" x2="0" y2="0"><stop offset="0" stop-color="#44d000"/><stop offset="0.2857" stop-color="#000"/><stop offset="1" stop-color="#ff1010"/></linearGradient></defs>
<rect x="1965.4" y="1417.4" width="16.6" height="147" fill="url(#cbg)" stroke="#000" stroke-width="1.7"/>
<line x1="1961.5" y1="1438.9" x2="1965.4" y2="1438.9" stroke="#000" stroke-width="1.5"/>
<line x1="1982" y1="1438.9" x2="1986" y2="1438.9" stroke="#000" stroke-width="1.5"/>
<text x="1993" y="1443.4" font-size="12" fill="#1a1a1a">3</text>
<line x1="1961.5" y1="1480.7" x2="1965.4" y2="1480.7" stroke="#000" stroke-width="1.5"/>
<line x1="1982" y1="1480.7" x2="1986" y2="1480.7" stroke="#000" stroke-width="1.5"/>
<text x="1993" y="1485.2" font-size="12" fill="#1a1a1a">2</text>
<line x1="1961.5" y1="1522.6" x2="1965.4" y2="1522.6" stroke="#000" stroke-width="1.5"/>
<line x1="1982" y1="1522.6" x2="1986" y2="1522.6" stroke="#000" stroke-width="1.5"/>
<text x="1993" y="1527.1" font-size="12" fill="#1a1a1a">1</text>
<line x1="1961.5" y1="1564.4" x2="1965.4" y2="1564.4" stroke="#000" stroke-width="1.5"/>
<line x1="1982" y1="1564.4" x2="1986" y2="1564.4" stroke="#000" stroke-width="1.5"/>
<text x="1993" y="1568.9" font-size="12" fill="#1a1a1a">0</text>
<text x="9" y="1491" font-size="27" font-weight="bold">f</text>
<defs><linearGradient id="hmg" x1="0" y1="0" x2="1" y2="0"><stop offset="0" stop-color="#14b57a"/><stop offset="0.5" stop-color="#000"/><stop offset="1" stop-color="#ff0000"/></linearGradient></defs>
<rect x="76" y="1495.2" width="302.3" height="17.9" fill="url(#hmg)" stroke="#111" stroke-width="1.2"/>
<text x="76" y="1542.7" font-size="21.5" font-weight="bold" letter-spacing="0.4" text-anchor="middle">0</text>
<text x="225" y="1542.7" font-size="21.5" font-weight="bold" letter-spacing="0.4" text-anchor="middle">0.75</text>
<text x="379" y="1542.7" font-size="21.5" font-weight="bold" letter-spacing="0.4" text-anchor="middle">1.5</text>
<circle cx="31.8" cy="1728.5" r="9.25" fill="#010b07"/>
<circle cx="50.62" cy="1728.5" r="9.25" fill="#07603f"/>
<circle cx="69.45" cy="1728.5" r="9.25" fill="#097a4f"/>
<circle cx="88.27" cy="1728.5" r="9.25" fill="#540000"/>
<circle cx="107.1" cy="1728.5" r="9.25" fill="#07603f"/>
<circle cx="125.92" cy="1728.5" r="9.25" fill="#0b8c5b"/>
<circle cx="144.75" cy="1728.5" r="9.25" fill="#07603f"/>
<circle cx="163.58" cy="1728.5" r="9.25" fill="#010b07"/>
<circle cx="182.4" cy="1728.5" r="9.25" fill="#07603f"/>
<circle cx="201.22" cy="1728.5" r="9.25" fill="#fd0000"/>
<circle cx="220.05" cy="1728.5" r="9.25" fill="#07603f"/>
<circle cx="238.88" cy="1728.5" r="9.25" fill="#0b8c5b"/>
<circle cx="257.7" cy="1728.5" r="9.25" fill="#043b26"/>
<circle cx="276.52" cy="1728.5" r="9.25" fill="#0b8c5b"/>
<circle cx="295.35" cy="1728.5" r="9.25" fill="#07603f"/>
<circle cx="314.18" cy="1728.5" r="9.25" fill="#0b8c5b"/>
<circle cx="333" cy="1728.5" r="9.25" fill="#097a4f"/>
<circle cx="351.82" cy="1728.5" r="9.25" fill="#0fa56c"/>
<circle cx="370.65" cy="1728.5" r="9.25" fill="#010b07"/>
<circle cx="389.48" cy="1728.5" r="9.25" fill="#0fa56c"/>
<circle cx="408.3" cy="1728.5" r="9.25" fill="#0b8c5b"/>
<circle cx="427.12" cy="1728.5" r="9.25" fill="#010b07"/>
<circle cx="445.95" cy="1728.5" r="9.25" fill="#540000"/>
<circle cx="464.77" cy="1728.5" r="9.25" fill="#010b07"/>
<circle cx="483.6" cy="1728.5" r="9.25" fill="#010b07"/>
<circle cx="502.43" cy="1728.5" r="9.25" fill="#010b07"/>
<circle cx="521.25" cy="1728.5" r="9.25" fill="#010b07"/>
<circle cx="540.07" cy="1728.5" r="9.25" fill="#043b26"/>
<circle cx="558.9" cy="1728.5" r="9.25" fill="#e20000"/>
<circle cx="577.72" cy="1728.5" r="9.25" fill="#010b07"/>
<circle cx="596.55" cy="1728.5" r="9.25" fill="#07603f"/>
<circle cx="615.37" cy="1728.5" r="9.25" fill="#07603f"/>
<circle cx="634.2" cy="1728.5" r="9.25" fill="#0b8c5b"/>
<circle cx="653.02" cy="1728.5" r="9.25" fill="#097a4f"/>
<circle cx="671.85" cy="1728.5" r="9.25" fill="#0fa56c"/>
<circle cx="690.67" cy="1728.5" r="9.25" fill="#0fa56c"/>
<circle cx="709.5" cy="1728.5" r="9.25" fill="#0b8c5b"/>
<circle cx="728.32" cy="1728.5" r="9.25" fill="#010b07"/>
<circle cx="747.15" cy="1728.5" r="9.25" fill="#043b26"/>
<circle cx="765.97" cy="1728.5" r="9.25" fill="#043b26"/>
<circle cx="784.8" cy="1728.5" r="9.25" fill="#07603f"/>
<circle cx="803.62" cy="1728.5" r="9.25" fill="#0fa56c"/>
<circle cx="822.45" cy="1728.5" r="9.25" fill="#07603f"/>
<circle cx="841.27" cy="1728.5" r="9.25" fill="#043b26"/>
<circle cx="860.1" cy="1728.5" r="9.25" fill="#0fa56c"/>
<circle cx="878.92" cy="1728.5" r="9.25" fill="#07603f"/>
<circle cx="897.75" cy="1728.5" r="9.25" fill="#043b26"/>
<circle cx="916.57" cy="1728.5" r="9.25" fill="#043b26"/>
<circle cx="935.4" cy="1728.5" r="9.25" fill="#0b8c5b"/>
<circle cx="954.22" cy="1728.5" r="9.25" fill="#0fa56c"/>
<circle cx="973.05" cy="1728.5" r="9.25" fill="#07603f"/>
<circle cx="991.87" cy="1728.5" r="9.25" fill="#07603f"/>
<circle cx="1010.7" cy="1728.5" r="9.25" fill="#010b07"/>
<circle cx="1029.52" cy="1728.5" r="9.25" fill="#043b26"/>
<circle cx="1048.35" cy="1728.5" r="9.25" fill="#043b26"/>
<circle cx="1067.17" cy="1728.5" r="9.25" fill="#0fa56c"/>
<circle cx="1086" cy="1728.5" r="9.25" fill="#540000"/>
<circle cx="1104.82" cy="1728.5" r="9.25" fill="#540000"/>
<circle cx="1123.65" cy="1728.5" r="9.25" fill="#fd0000"/>
<circle cx="1142.47" cy="1728.5" r="9.25" fill="#0fa56c"/>
<circle cx="1161.3" cy="1728.5" r="9.25" fill="#0fa56c"/>
<circle cx="1180.12" cy="1728.5" r="9.25" fill="#010b07"/>
<circle cx="1198.95" cy="1728.5" r="9.25" fill="#0b8c5b"/>
<circle cx="1217.77" cy="1728.5" r="9.25" fill="#07603f"/>
<circle cx="1236.6" cy="1728.5" r="9.25" fill="#010b07"/>
<circle cx="1255.42" cy="1728.5" r="9.25" fill="#fd0000"/>
<circle cx="1274.25" cy="1728.5" r="9.25" fill="#fd0000"/>
<circle cx="1293.07" cy="1728.5" r="9.25" fill="#fd0000"/>
<circle cx="1311.9" cy="1728.5" r="9.25" fill="#540000"/>
<circle cx="1330.72" cy="1728.5" r="9.25" fill="#fd0000"/>
<circle cx="1349.55" cy="1728.5" r="9.25" fill="#010b07"/>
<circle cx="1368.38" cy="1728.5" r="9.25" fill="#fd0000"/>
<circle cx="1387.2" cy="1728.5" r="9.25" fill="#e20000"/>
<circle cx="1406.02" cy="1728.5" r="9.25" fill="#e20000"/>
<circle cx="1424.85" cy="1728.5" r="9.25" fill="#043b26"/>
<circle cx="1443.67" cy="1728.5" r="9.25" fill="#e20000"/>
<circle cx="1462.5" cy="1728.5" r="9.25" fill="#fd0000"/>
<circle cx="1481.32" cy="1728.5" r="9.25" fill="#fd0000"/>
<circle cx="1500.15" cy="1728.5" r="9.25" fill="#540000"/>
<circle cx="1518.97" cy="1728.5" r="9.25" fill="#540000"/>
<circle cx="1537.8" cy="1728.5" r="9.25" fill="#e20000"/>
<circle cx="1556.62" cy="1728.5" r="9.25" fill="#540000"/>
<circle cx="1575.45" cy="1728.5" r="9.25" fill="#043b26"/>
<circle cx="1594.27" cy="1728.5" r="9.25" fill="#07603f"/>
<circle cx="1613.1" cy="1728.5" r="9.25" fill="#010b07"/>
<circle cx="1631.92" cy="1728.5" r="9.25" fill="#0fa56c"/>
<circle cx="1650.75" cy="1728.5" r="9.25" fill="#540000"/>
<circle cx="1669.57" cy="1728.5" r="9.25" fill="#010b07"/>
<circle cx="1688.4" cy="1728.5" r="9.25" fill="#540000"/>
<circle cx="1707.22" cy="1728.5" r="9.25" fill="#07603f"/>
<circle cx="1726.05" cy="1728.5" r="9.25" fill="#0b8c5b"/>
<circle cx="1744.88" cy="1728.5" r="9.25" fill="#043b26"/>
<circle cx="1763.7" cy="1728.5" r="9.25" fill="#540000"/>
<circle cx="1782.52" cy="1728.5" r="9.25" fill="#010b07"/>
<circle cx="31.8" cy="1747.52" r="9.25" fill="#0fa56c"/>
<circle cx="50.62" cy="1747.52" r="9.25" fill="#07603f"/>
<circle cx="69.45" cy="1747.52" r="9.25" fill="#0b8c5b"/>
<circle cx="88.27" cy="1747.52" r="9.25" fill="#540000"/>
<circle cx="107.1" cy="1747.52" r="9.25" fill="#e20000"/>
<circle cx="125.92" cy="1747.52" r="9.25" fill="#010b07"/>
<circle cx="144.75" cy="1747.52" r="9.25" fill="#010b07"/>
<circle cx="163.58" cy="1747.52" r="9.25" fill="#fd0000"/>
<circle cx="182.4" cy="1747.52" r="9.25" fill="#0b8c5b"/>
<circle cx="201.22" cy="1747.52" r="9.25" fill="#fd0000"/>
<circle cx="220.05" cy="1747.52" r="9.25" fill="#0b8c5b"/>
<circle cx="238.88" cy="1747.52" r="9.25" fill="#07603f"/>
<circle cx="257.7" cy="1747.52" r="9.25" fill="#540000"/>
<circle cx="276.52" cy="1747.52" r="9.25" fill="#540000"/>
<circle cx="295.35" cy="1747.52" r="9.25" fill="#07603f"/>
<circle cx="314.18" cy="1747.52" r="9.25" fill="#0b8c5b"/>
<circle cx="333" cy="1747.52" r="9.25" fill="#097a4f"/>
<circle cx="351.82" cy="1747.52" r="9.25" fill="#0fa56c"/>
<circle cx="370.65" cy="1747.52" r="9.25" fill="#0b8c5b"/>
<circle cx="389.48" cy="1747.52" r="9.25" fill="#0fa56c"/>
<circle cx="408.3" cy="1747.52" r="9.25" fill="#0b8c5b"/>
<circle cx="427.12" cy="1747.52" r="9.25" fill="#07603f"/>
<circle cx="445.95" cy="1747.52" r="9.25" fill="#0fa56c"/>
<circle cx="464.77" cy="1747.52" r="9.25" fill="#0fa56c"/>
<circle cx="483.6" cy="1747.52" r="9.25" fill="#07603f"/>
<circle cx="502.43" cy="1747.52" r="9.25" fill="#010b07"/>
<circle cx="521.25" cy="1747.52" r="9.25" fill="#010b07"/>
<circle cx="540.07" cy="1747.52" r="9.25" fill="#540000"/>
<circle cx="558.9" cy="1747.52" r="9.25" fill="#e20000"/>
<circle cx="577.72" cy="1747.52" r="9.25" fill="#010b07"/>
<circle cx="596.55" cy="1747.52" r="9.25" fill="#07603f"/>
<circle cx="615.37" cy="1747.52" r="9.25" fill="#e20000"/>
<circle cx="634.2" cy="1747.52" r="9.25" fill="#540000"/>
<circle cx="653.02" cy="1747.52" r="9.25" fill="#540000"/>
<circle cx="671.85" cy="1747.52" r="9.25" fill="#043b26"/>
<circle cx="690.67" cy="1747.52" r="9.25" fill="#0fa56c"/>
<circle cx="709.5" cy="1747.52" r="9.25" fill="#07603f"/>
<circle cx="728.32" cy="1747.52" r="9.25" fill="#07603f"/>
<circle cx="747.15" cy="1747.52" r="9.25" fill="#fd0000"/>
<circle cx="765.97" cy="1747.52" r="9.25" fill="#540000"/>
<circle cx="784.8" cy="1747.52" r="9.25" fill="#e20000"/>
<circle cx="803.62" cy="1747.52" r="9.25" fill="#fd0000"/>
<circle cx="822.45" cy="1747.52" r="9.25" fill="#e20000"/>
<circle cx="841.27" cy="1747.52" r="9.25" fill="#fd0000"/>
<circle cx="860.1" cy="1747.52" r="9.25" fill="#540000"/>
<circle cx="878.92" cy="1747.52" r="9.25" fill="#010b07"/>
<circle cx="897.75" cy="1747.52" r="9.25" fill="#043b26"/>
<circle cx="916.57" cy="1747.52" r="9.25" fill="#0fa56c"/>
<circle cx="935.4" cy="1747.52" r="9.25" fill="#540000"/>
<circle cx="954.22" cy="1747.52" r="9.25" fill="#0fa56c"/>
<circle cx="973.05" cy="1747.52" r="9.25" fill="#010b07"/>
<circle cx="991.87" cy="1747.52" r="9.25" fill="#010b07"/>
<circle cx="1010.7" cy="1747.52" r="9.25" fill="#e20000"/>
<circle cx="1029.52" cy="1747.52" r="9.25" fill="#540000"/>
<circle cx="1048.35" cy="1747.52" r="9.25" fill="#fd0000"/>
<circle cx="1067.17" cy="1747.52" r="9.25" fill="#0b8c5b"/>
<circle cx="1086" cy="1747.52" r="9.25" fill="#fd0000"/>
<circle cx="1104.82" cy="1747.52" r="9.25" fill="#097a4f"/>
<circle cx="1123.65" cy="1747.52" r="9.25" fill="#e20000"/>
<circle cx="1142.47" cy="1747.52" r="9.25" fill="#0fa56c"/>
<circle cx="1161.3" cy="1747.52" r="9.25" fill="#0fa56c"/>
<circle cx="1180.12" cy="1747.52" r="9.25" fill="#fd0000"/>
<circle cx="1198.95" cy="1747.52" r="9.25" fill="#043b26"/>
<circle cx="1217.77" cy="1747.52" r="9.25" fill="#0b8c5b"/>
<circle cx="1236.6" cy="1747.52" r="9.25" fill="#07603f"/>
<circle cx="1255.42" cy="1747.52" r="9.25" fill="#540000"/>
<circle cx="1274.25" cy="1747.52" r="9.25" fill="#010b07"/>
<circle cx="1293.07" cy="1747.52" r="9.25" fill="#097a4f"/>
<circle cx="1311.9" cy="1747.52" r="9.25" fill="#043b26"/>
<circle cx="1330.72" cy="1747.52" r="9.25" fill="#fd0000"/>
<circle cx="1349.55" cy="1747.52" r="9.25" fill="#010b07"/>
<circle cx="1368.38" cy="1747.52" r="9.25" fill="#fd0000"/>
<circle cx="1387.2" cy="1747.52" r="9.25" fill="#e20000"/>
<circle cx="1406.02" cy="1747.52" r="9.25" fill="#e20000"/>
<circle cx="1424.85" cy="1747.52" r="9.25" fill="#540000"/>
<circle cx="1443.67" cy="1747.52" r="9.25" fill="#010b07"/>
<circle cx="1462.5" cy="1747.52" r="9.25" fill="#540000"/>
<circle cx="1481.32" cy="1747.52" r="9.25" fill="#540000"/>
<circle cx="1500.15" cy="1747.52" r="9.25" fill="#540000"/>
<circle cx="1518.97" cy="1747.52" r="9.25" fill="#540000"/>
<circle cx="1537.8" cy="1747.52" r="9.25" fill="#e20000"/>
<circle cx="1556.62" cy="1747.52" r="9.25" fill="#540000"/>
<circle cx="1575.45" cy="1747.52" r="9.25" fill="#fd0000"/>
<circle cx="1594.27" cy="1747.52" r="9.25" fill="#fd0000"/>
<circle cx="1613.1" cy="1747.52" r="9.25" fill="#e20000"/>
<circle cx="1631.92" cy="1747.52" r="9.25" fill="#fd0000"/>
<circle cx="1650.75" cy="1747.52" r="9.25" fill="#fd0000"/>
<circle cx="1669.57" cy="1747.52" r="9.25" fill="#e20000"/>
<circle cx="1688.4" cy="1747.52" r="9.25" fill="#fd0000"/>
<circle cx="1707.22" cy="1747.52" r="9.25" fill="#e20000"/>
<circle cx="1726.05" cy="1747.52" r="9.25" fill="#043b26"/>
<circle cx="1744.88" cy="1747.52" r="9.25" fill="#fd0000"/>
<circle cx="1763.7" cy="1747.52" r="9.25" fill="#fd0000"/>
<circle cx="1782.52" cy="1747.52" r="9.25" fill="#fd0000"/>
<circle cx="31.8" cy="1766.54" r="9.25" fill="#fd0000"/>
<circle cx="50.62" cy="1766.54" r="9.25" fill="#fd0000"/>
<circle cx="69.45" cy="1766.54" r="9.25" fill="#540000"/>
<circle cx="88.27" cy="1766.54" r="9.25" fill="#fd0000"/>
<circle cx="107.1" cy="1766.54" r="9.25" fill="#e20000"/>
<circle cx="125.92" cy="1766.54" r="9.25" fill="#010b07"/>
<circle cx="144.75" cy="1766.54" r="9.25" fill="#e20000"/>
<circle cx="163.58" cy="1766.54" r="9.25" fill="#fd0000"/>
<circle cx="182.4" cy="1766.54" r="9.25" fill="#010b07"/>
<circle cx="201.22" cy="1766.54" r="9.25" fill="#fd0000"/>
<circle cx="220.05" cy="1766.54" r="9.25" fill="#07603f"/>
<circle cx="238.88" cy="1766.54" r="9.25" fill="#07603f"/>
<circle cx="257.7" cy="1766.54" r="9.25" fill="#043b26"/>
<circle cx="276.52" cy="1766.54" r="9.25" fill="#097a4f"/>
<circle cx="295.35" cy="1766.54" r="9.25" fill="#07603f"/>
<circle cx="314.18" cy="1766.54" r="9.25" fill="#07603f"/>
<circle cx="333" cy="1766.54" r="9.25" fill="#043b26"/>
<circle cx="351.82" cy="1766.54" r="9.25" fill="#0b8c5b"/>
<circle cx="370.65" cy="1766.54" r="9.25" fill="#010b07"/>
<circle cx="389.48" cy="1766.54" r="9.25" fill="#0b8c5b"/>
<circle cx="408.3" cy="1766.54" r="9.25" fill="#010b07"/>
<circle cx="427.12" cy="1766.54" r="9.25" fill="#07603f"/>
<circle cx="445.95" cy="1766.54" r="9.25" fill="#097a4f"/>
<circle cx="464.77" cy="1766.54" r="9.25" fill="#010b07"/>
<circle cx="483.6" cy="1766.54" r="9.25" fill="#010b07"/>
<circle cx="502.43" cy="1766.54" r="9.25" fill="#010b07"/>
<circle cx="521.25" cy="1766.54" r="9.25" fill="#e20000"/>
<circle cx="540.07" cy="1766.54" r="9.25" fill="#fd0000"/>
<circle cx="558.9" cy="1766.54" r="9.25" fill="#e20000"/>
<circle cx="577.72" cy="1766.54" r="9.25" fill="#010b07"/>
<circle cx="596.55" cy="1766.54" r="9.25" fill="#07603f"/>
<circle cx="615.37" cy="1766.54" r="9.25" fill="#e20000"/>
<circle cx="634.2" cy="1766.54" r="9.25" fill="#540000"/>
<circle cx="653.02" cy="1766.54" r="9.25" fill="#540000"/>
<circle cx="671.85" cy="1766.54" r="9.25" fill="#043b26"/>
<circle cx="690.67" cy="1766.54" r="9.25" fill="#07603f"/>
<circle cx="709.5" cy="1766.54" r="9.25" fill="#010b07"/>
<circle cx="728.32" cy="1766.54" r="9.25" fill="#010b07"/>
<circle cx="747.15" cy="1766.54" r="9.25" fill="#fd0000"/>
<circle cx="765.97" cy="1766.54" r="9.25" fill="#540000"/>
<circle cx="784.8" cy="1766.54" r="9.25" fill="#010b07"/>
<circle cx="803.62" cy="1766.54" r="9.25" fill="#010b07"/>
<circle cx="822.45" cy="1766.54" r="9.25" fill="#010b07"/>
<circle cx="841.27" cy="1766.54" r="9.25" fill="#fd0000"/>
<circle cx="860.1" cy="1766.54" r="9.25" fill="#540000"/>
<circle cx="878.92" cy="1766.54" r="9.25" fill="#e20000"/>
<circle cx="897.75" cy="1766.54" r="9.25" fill="#0b8c5b"/>
<circle cx="916.57" cy="1766.54" r="9.25" fill="#043b26"/>
<circle cx="935.4" cy="1766.54" r="9.25" fill="#540000"/>
<circle cx="954.22" cy="1766.54" r="9.25" fill="#fd0000"/>
<circle cx="973.05" cy="1766.54" r="9.25" fill="#e20000"/>
<circle cx="991.87" cy="1766.54" r="9.25" fill="#07603f"/>
<circle cx="1010.7" cy="1766.54" r="9.25" fill="#010b07"/>
<circle cx="1029.52" cy="1766.54" r="9.25" fill="#043b26"/>
<circle cx="1048.35" cy="1766.54" r="9.25" fill="#fd0000"/>
<circle cx="1067.17" cy="1766.54" r="9.25" fill="#07603f"/>
<circle cx="1086" cy="1766.54" r="9.25" fill="#fd0000"/>
<circle cx="1104.82" cy="1766.54" r="9.25" fill="#fd0000"/>
<circle cx="1123.65" cy="1766.54" r="9.25" fill="#fd0000"/>
<circle cx="1142.47" cy="1766.54" r="9.25" fill="#fd0000"/>
<circle cx="1161.3" cy="1766.54" r="9.25" fill="#fd0000"/>
<circle cx="1180.12" cy="1766.54" r="9.25" fill="#fd0000"/>
<circle cx="1198.95" cy="1766.54" r="9.25" fill="#fd0000"/>
<circle cx="1217.77" cy="1766.54" r="9.25" fill="#e20000"/>
<circle cx="1236.6" cy="1766.54" r="9.25" fill="#07603f"/>
<circle cx="1255.42" cy="1766.54" r="9.25" fill="#540000"/>
<circle cx="1274.25" cy="1766.54" r="9.25" fill="#e20000"/>
<circle cx="1293.07" cy="1766.54" r="9.25" fill="#043b26"/>
<circle cx="1311.9" cy="1766.54" r="9.25" fill="#540000"/>
<circle cx="1330.72" cy="1766.54" r="9.25" fill="#fd0000"/>
<circle cx="1349.55" cy="1766.54" r="9.25" fill="#07603f"/>
<circle cx="1368.38" cy="1766.54" r="9.25" fill="#540000"/>
<circle cx="1387.2" cy="1766.54" r="9.25" fill="#e20000"/>
<circle cx="1406.02" cy="1766.54" r="9.25" fill="#e20000"/>
<circle cx="1424.85" cy="1766.54" r="9.25" fill="#540000"/>
<circle cx="1443.67" cy="1766.54" r="9.25" fill="#010b07"/>
<circle cx="1462.5" cy="1766.54" r="9.25" fill="#fd0000"/>
<circle cx="1481.32" cy="1766.54" r="9.25" fill="#fd0000"/>
<circle cx="1500.15" cy="1766.54" r="9.25" fill="#540000"/>
<circle cx="1518.97" cy="1766.54" r="9.25" fill="#540000"/>
<circle cx="1537.8" cy="1766.54" r="9.25" fill="#9a0000"/>
<circle cx="1556.62" cy="1766.54" r="9.25" fill="#540000"/>
<circle cx="1575.45" cy="1766.54" r="9.25" fill="#540000"/>
<circle cx="1594.27" cy="1766.54" r="9.25" fill="#010b07"/>
<circle cx="1613.1" cy="1766.54" r="9.25" fill="#010b07"/>
<circle cx="1631.92" cy="1766.54" r="9.25" fill="#fd0000"/>
<circle cx="1650.75" cy="1766.54" r="9.25" fill="#540000"/>
<circle cx="1669.57" cy="1766.54" r="9.25" fill="#010b07"/>
<circle cx="1688.4" cy="1766.54" r="9.25" fill="#fd0000"/>
<circle cx="1707.22" cy="1766.54" r="9.25" fill="#e20000"/>
<circle cx="1726.05" cy="1766.54" r="9.25" fill="#043b26"/>
<circle cx="1744.88" cy="1766.54" r="9.25" fill="#fd0000"/>
<circle cx="1763.7" cy="1766.54" r="9.25" fill="#fd0000"/>
<circle cx="1782.52" cy="1766.54" r="9.25" fill="#fd0000"/>
<circle cx="31.8" cy="1785.56" r="9.25" fill="#fd0000"/>
<circle cx="50.62" cy="1785.56" r="9.25" fill="#e20000"/>
<circle cx="69.45" cy="1785.56" r="9.25" fill="#540000"/>
<circle cx="88.27" cy="1785.56" r="9.25" fill="#fd0000"/>
<circle cx="107.1" cy="1785.56" r="9.25" fill="#fd0000"/>
<circle cx="125.92" cy="1785.56" r="9.25" fill="#e20000"/>
<circle cx="144.75" cy="1785.56" r="9.25" fill="#fd0000"/>
<circle cx="163.58" cy="1785.56" r="9.25" fill="#fd0000"/>
<circle cx="182.4" cy="1785.56" r="9.25" fill="#fd0000"/>
<circle cx="201.22" cy="1785.56" r="9.25" fill="#fd0000"/>
<circle cx="220.05" cy="1785.56" r="9.25" fill="#010b07"/>
<circle cx="238.88" cy="1785.56" r="9.25" fill="#e20000"/>
<circle cx="257.7" cy="1785.56" r="9.25" fill="#fd0000"/>
<circle cx="276.52" cy="1785.56" r="9.25" fill="#fd0000"/>
<circle cx="295.35" cy="1785.56" r="9.25" fill="#fd0000"/>
<circle cx="314.18" cy="1785.56" r="9.25" fill="#fd0000"/>
<circle cx="333" cy="1785.56" r="9.25" fill="#fd0000"/>
<circle cx="351.82" cy="1785.56" r="9.25" fill="#fd0000"/>
<circle cx="370.65" cy="1785.56" r="9.25" fill="#fd0000"/>
<circle cx="389.48" cy="1785.56" r="9.25" fill="#fd0000"/>
<circle cx="408.3" cy="1785.56" r="9.25" fill="#fd0000"/>
<circle cx="427.12" cy="1785.56" r="9.25" fill="#e20000"/>
<circle cx="445.95" cy="1785.56" r="9.25" fill="#fd0000"/>
<circle cx="464.77" cy="1785.56" r="9.25" fill="#e20000"/>
<circle cx="483.6" cy="1785.56" r="9.25" fill="#e20000"/>
<circle cx="502.43" cy="1785.56" r="9.25" fill="#e20000"/>
<circle cx="521.25" cy="1785.56" r="9.25" fill="#fd0000"/>
<circle cx="540.07" cy="1785.56" r="9.25" fill="#fd0000"/>
<circle cx="558.9" cy="1785.56" r="9.25" fill="#fd0000"/>
<circle cx="577.72" cy="1785.56" r="9.25" fill="#e20000"/>
<circle cx="596.55" cy="1785.56" r="9.25" fill="#010b07"/>
<circle cx="615.37" cy="1785.56" r="9.25" fill="#fd0000"/>
<circle cx="634.2" cy="1785.56" r="9.25" fill="#fd0000"/>
<circle cx="653.02" cy="1785.56" r="9.25" fill="#fd0000"/>
<circle cx="671.85" cy="1785.56" r="9.25" fill="#540000"/>
<circle cx="690.67" cy="1785.56" r="9.25" fill="#fd0000"/>
<circle cx="709.5" cy="1785.56" r="9.25" fill="#fd0000"/>
<circle cx="728.32" cy="1785.56" r="9.25" fill="#e20000"/>
<circle cx="747.15" cy="1785.56" r="9.25" fill="#fd0000"/>
<circle cx="765.97" cy="1785.56" r="9.25" fill="#540000"/>
<circle cx="784.8" cy="1785.56" r="9.25" fill="#e20000"/>
<circle cx="803.62" cy="1785.56" r="9.25" fill="#fd0000"/>
<circle cx="822.45" cy="1785.56" r="9.25" fill="#e20000"/>
<circle cx="841.27" cy="1785.56" r="9.25" fill="#fd0000"/>
<circle cx="860.1" cy="1785.56" r="9.25" fill="#540000"/>
<circle cx="878.92" cy="1785.56" r="9.25" fill="#e20000"/>
<circle cx="897.75" cy="1785.56" r="9.25" fill="#fd0000"/>
<circle cx="916.57" cy="1785.56" r="9.25" fill="#fd0000"/>
<circle cx="935.4" cy="1785.56" r="9.25" fill="#fd0000"/>
<circle cx="954.22" cy="1785.56" r="9.25" fill="#fd0000"/>
<circle cx="973.05" cy="1785.56" r="9.25" fill="#fd0000"/>
<circle cx="991.87" cy="1785.56" r="9.25" fill="#e20000"/>
<circle cx="1010.7" cy="1785.56" r="9.25" fill="#e20000"/>
<circle cx="1029.52" cy="1785.56" r="9.25" fill="#fd0000"/>
<circle cx="1048.35" cy="1785.56" r="9.25" fill="#fd0000"/>
<circle cx="1067.17" cy="1785.56" r="9.25" fill="#07603f"/>
<circle cx="1086" cy="1785.56" r="9.25" fill="#fd0000"/>
<circle cx="1104.82" cy="1785.56" r="9.25" fill="#540000"/>
<circle cx="1123.65" cy="1785.56" r="9.25" fill="#fd0000"/>
<circle cx="1142.47" cy="1785.56" r="9.25" fill="#fd0000"/>
<circle cx="1161.3" cy="1785.56" r="9.25" fill="#fd0000"/>
<circle cx="1180.12" cy="1785.56" r="9.25" fill="#fd0000"/>
<circle cx="1198.95" cy="1785.56" r="9.25" fill="#fd0000"/>
<circle cx="1217.77" cy="1785.56" r="9.25" fill="#010b07"/>
<circle cx="1236.6" cy="1785.56" r="9.25" fill="#07603f"/>
<circle cx="1255.42" cy="1785.56" r="9.25" fill="#540000"/>
<circle cx="1274.25" cy="1785.56" r="9.25" fill="#e20000"/>
<circle cx="1293.07" cy="1785.56" r="9.25" fill="#fd0000"/>
<circle cx="1311.9" cy="1785.56" r="9.25" fill="#540000"/>
<circle cx="1330.72" cy="1785.56" r="9.25" fill="#fd0000"/>
<circle cx="1349.55" cy="1785.56" r="9.25" fill="#010b07"/>
<circle cx="1368.38" cy="1785.56" r="9.25" fill="#fd0000"/>
<circle cx="1387.2" cy="1785.56" r="9.25" fill="#e20000"/>
<circle cx="1406.02" cy="1785.56" r="9.25" fill="#e20000"/>
<circle cx="1424.85" cy="1785.56" r="9.25" fill="#540000"/>
<circle cx="1443.67" cy="1785.56" r="9.25" fill="#010b07"/>
<circle cx="1462.5" cy="1785.56" r="9.25" fill="#043b26"/>
<circle cx="1481.32" cy="1785.56" r="9.25" fill="#540000"/>
<circle cx="1500.15" cy="1785.56" r="9.25" fill="#043b26"/>
<circle cx="1518.97" cy="1785.56" r="9.25" fill="#043b26"/>
<circle cx="1537.8" cy="1785.56" r="9.25" fill="#010b07"/>
<circle cx="1556.62" cy="1785.56" r="9.25" fill="#043b26"/>
<circle cx="1575.45" cy="1785.56" r="9.25" fill="#0b8c5b"/>
<circle cx="1594.27" cy="1785.56" r="9.25" fill="#07603f"/>
<circle cx="1613.1" cy="1785.56" r="9.25" fill="#010b07"/>
<circle cx="1631.92" cy="1785.56" r="9.25" fill="#fd0000"/>
<circle cx="1650.75" cy="1785.56" r="9.25" fill="#043b26"/>
<circle cx="1669.57" cy="1785.56" r="9.25" fill="#07603f"/>
<circle cx="1688.4" cy="1785.56" r="9.25" fill="#043b26"/>
<circle cx="1707.22" cy="1785.56" r="9.25" fill="#07603f"/>
<circle cx="1726.05" cy="1785.56" r="9.25" fill="#0b8c5b"/>
<circle cx="1744.88" cy="1785.56" r="9.25" fill="#540000"/>
<circle cx="1763.7" cy="1785.56" r="9.25" fill="#540000"/>
<circle cx="1782.52" cy="1785.56" r="9.25" fill="#e20000"/>
<circle cx="31.8" cy="1804.58" r="9.25" fill="#010b07"/>
<circle cx="50.62" cy="1804.58" r="9.25" fill="#fd0000"/>
<circle cx="69.45" cy="1804.58" r="9.25" fill="#540000"/>
<circle cx="88.27" cy="1804.58" r="9.25" fill="#fd0000"/>
<circle cx="107.1" cy="1804.58" r="9.25" fill="#fd0000"/>
<circle cx="125.92" cy="1804.58" r="9.25" fill="#e20000"/>
<circle cx="144.75" cy="1804.58" r="9.25" fill="#fd0000"/>
<circle cx="163.58" cy="1804.58" r="9.25" fill="#fd0000"/>
<circle cx="182.4" cy="1804.58" r="9.25" fill="#fd0000"/>
<circle cx="201.22" cy="1804.58" r="9.25" fill="#fd0000"/>
<circle cx="220.05" cy="1804.58" r="9.25" fill="#010b07"/>
<circle cx="238.88" cy="1804.58" r="9.25" fill="#e20000"/>
<circle cx="257.7" cy="1804.58" r="9.25" fill="#fd0000"/>
<circle cx="276.52" cy="1804.58" r="9.25" fill="#fd0000"/>
<circle cx="295.35" cy="1804.58" r="9.25" fill="#fd0000"/>
<circle cx="314.18" cy="1804.58" r="9.25" fill="#fd0000"/>
<circle cx="333" cy="1804.58" r="9.25" fill="#fd0000"/>
<circle cx="351.82" cy="1804.58" r="9.25" fill="#fd0000"/>
<circle cx="370.65" cy="1804.58" r="9.25" fill="#fd0000"/>
<circle cx="389.48" cy="1804.58" r="9.25" fill="#fd0000"/>
<circle cx="408.3" cy="1804.58" r="9.25" fill="#fd0000"/>
<circle cx="427.12" cy="1804.58" r="9.25" fill="#e20000"/>
<circle cx="445.95" cy="1804.58" r="9.25" fill="#fd0000"/>
<circle cx="464.77" cy="1804.58" r="9.25" fill="#e20000"/>
<circle cx="483.6" cy="1804.58" r="9.25" fill="#e20000"/>
<circle cx="502.43" cy="1804.58" r="9.25" fill="#e20000"/>
<circle cx="521.25" cy="1804.58" r="9.25" fill="#fd0000"/>
<circle cx="540.07" cy="1804.58" r="9.25" fill="#fd0000"/>
<circle cx="558.9" cy="1804.58" r="9.25" fill="#fd0000"/>
<circle cx="577.72" cy="1804.58" r="9.25" fill="#e20000"/>
<circle cx="596.55" cy="1804.58" r="9.25" fill="#010b07"/>
<circle cx="615.37" cy="1804.58" r="9.25" fill="#fd0000"/>
<circle cx="634.2" cy="1804.58" r="9.25" fill="#fd0000"/>
<circle cx="653.02" cy="1804.58" r="9.25" fill="#fd0000"/>
<circle cx="671.85" cy="1804.58" r="9.25" fill="#540000"/>
<circle cx="690.67" cy="1804.58" r="9.25" fill="#fd0000"/>
<circle cx="709.5" cy="1804.58" r="9.25" fill="#fd0000"/>
<circle cx="728.32" cy="1804.58" r="9.25" fill="#fd0000"/>
<circle cx="747.15" cy="1804.58" r="9.25" fill="#fd0000"/>
<circle cx="765.97" cy="1804.58" r="9.25" fill="#fd0000"/>
<circle cx="784.8" cy="1804.58" r="9.25" fill="#fd0000"/>
<circle cx="803.62" cy="1804.58" r="9.25" fill="#fd0000"/>
<circle cx="822.45" cy="1804.58" r="9.25" fill="#e20000"/>
<circle cx="841.27" cy="1804.58" r="9.25" fill="#fd0000"/>
<circle cx="860.1" cy="1804.58" r="9.25" fill="#540000"/>
<circle cx="878.92" cy="1804.58" r="9.25" fill="#e20000"/>
<circle cx="897.75" cy="1804.58" r="9.25" fill="#fd0000"/>
<circle cx="916.57" cy="1804.58" r="9.25" fill="#fd0000"/>
<circle cx="935.4" cy="1804.58" r="9.25" fill="#fd0000"/>
<circle cx="954.22" cy="1804.58" r="9.25" fill="#0fa56c"/>
<circle cx="973.05" cy="1804.58" r="9.25" fill="#fd0000"/>
<circle cx="991.87" cy="1804.58" r="9.25" fill="#fd0000"/>
<circle cx="1010.7" cy="1804.58" r="9.25" fill="#e20000"/>
<circle cx="1029.52" cy="1804.58" r="9.25" fill="#fd0000"/>
<circle cx="1048.35" cy="1804.58" r="9.25" fill="#fd0000"/>
<circle cx="1067.17" cy="1804.58" r="9.25" fill="#0fa56c"/>
<circle cx="1086" cy="1804.58" r="9.25" fill="#fd0000"/>
<circle cx="1104.82" cy="1804.58" r="9.25" fill="#540000"/>
<circle cx="1123.65" cy="1804.58" r="9.25" fill="#fd0000"/>
<circle cx="1142.47" cy="1804.58" r="9.25" fill="#0fa56c"/>
<circle cx="1161.3" cy="1804.58" r="9.25" fill="#fd0000"/>
<circle cx="1180.12" cy="1804.58" r="9.25" fill="#0fa56c"/>
<circle cx="1198.95" cy="1804.58" r="9.25" fill="#043b26"/>
<circle cx="1217.77" cy="1804.58" r="9.25" fill="#010b07"/>
<circle cx="1236.6" cy="1804.58" r="9.25" fill="#010b07"/>
<circle cx="1255.42" cy="1804.58" r="9.25" fill="#fd0000"/>
<circle cx="1274.25" cy="1804.58" r="9.25" fill="#e20000"/>
<circle cx="1293.07" cy="1804.58" r="9.25" fill="#fd0000"/>
<circle cx="1311.9" cy="1804.58" r="9.25" fill="#540000"/>
<circle cx="1330.72" cy="1804.58" r="9.25" fill="#fd0000"/>
<circle cx="1349.55" cy="1804.58" r="9.25" fill="#010b07"/>
<circle cx="1368.38" cy="1804.58" r="9.25" fill="#fd0000"/>
<circle cx="1387.2" cy="1804.58" r="9.25" fill="#e20000"/>
<circle cx="1406.02" cy="1804.58" r="9.25" fill="#e20000"/>
<circle cx="1424.85" cy="1804.58" r="9.25" fill="#540000"/>
<circle cx="1443.67" cy="1804.58" r="9.25" fill="#07603f"/>
<circle cx="1462.5" cy="1804.58" r="9.25" fill="#043b26"/>
<circle cx="1481.32" cy="1804.58" r="9.25" fill="#540000"/>
<circle cx="1500.15" cy="1804.58" r="9.25" fill="#043b26"/>
<circle cx="1518.97" cy="1804.58" r="9.25" fill="#043b26"/>
<circle cx="1537.8" cy="1804.58" r="9.25" fill="#010b07"/>
<circle cx="1556.62" cy="1804.58" r="9.25" fill="#043b26"/>
<circle cx="1575.45" cy="1804.58" r="9.25" fill="#0b8c5b"/>
<circle cx="1594.27" cy="1804.58" r="9.25" fill="#07603f"/>
<circle cx="1613.1" cy="1804.58" r="9.25" fill="#010b07"/>
<circle cx="1631.92" cy="1804.58" r="9.25" fill="#fd0000"/>
<circle cx="1650.75" cy="1804.58" r="9.25" fill="#540000"/>
<circle cx="1669.57" cy="1804.58" r="9.25" fill="#07603f"/>
<circle cx="1688.4" cy="1804.58" r="9.25" fill="#043b26"/>
<circle cx="1707.22" cy="1804.58" r="9.25" fill="#010b07"/>
<circle cx="1726.05" cy="1804.58" r="9.25" fill="#097a4f"/>
<circle cx="1744.88" cy="1804.58" r="9.25" fill="#540000"/>
<circle cx="1763.7" cy="1804.58" r="9.25" fill="#540000"/>
<circle cx="1782.52" cy="1804.58" r="9.25" fill="#e20000"/>
<circle cx="31.8" cy="1823.6" r="9.25" fill="#fd0000"/>
<circle cx="50.62" cy="1823.6" r="9.25" fill="#540000"/>
<circle cx="69.45" cy="1823.6" r="9.25" fill="#010b07"/>
<circle cx="88.27" cy="1823.6" r="9.25" fill="#9a0000"/>
<circle cx="107.1" cy="1823.6" r="9.25" fill="#fd0000"/>
<circle cx="125.92" cy="1823.6" r="9.25" fill="#2e0000"/>
<circle cx="144.75" cy="1823.6" r="9.25" fill="#fd0000"/>
<circle cx="163.58" cy="1823.6" r="9.25" fill="#fd0000"/>
<circle cx="182.4" cy="1823.6" r="9.25" fill="#fd0000"/>
<circle cx="201.22" cy="1823.6" r="9.25" fill="#fd0000"/>
<circle cx="220.05" cy="1823.6" r="9.25" fill="#043b26"/>
<circle cx="238.88" cy="1823.6" r="9.25" fill="#2e0000"/>
<circle cx="257.7" cy="1823.6" r="9.25" fill="#fd0000"/>
<circle cx="276.52" cy="1823.6" r="9.25" fill="#fd0000"/>
<circle cx="295.35" cy="1823.6" r="9.25" fill="#fd0000"/>
<circle cx="314.18" cy="1823.6" r="9.25" fill="#fd0000"/>
<circle cx="333" cy="1823.6" r="9.25" fill="#fd0000"/>
<circle cx="351.82" cy="1823.6" r="9.25" fill="#fd0000"/>
<circle cx="370.65" cy="1823.6" r="9.25" fill="#fd0000"/>
<circle cx="389.48" cy="1823.6" r="9.25" fill="#9a0000"/>
<circle cx="408.3" cy="1823.6" r="9.25" fill="#fd0000"/>
<circle cx="427.12" cy="1823.6" r="9.25" fill="#540000"/>
<circle cx="445.95" cy="1823.6" r="9.25" fill="#fd0000"/>
<circle cx="464.77" cy="1823.6" r="9.25" fill="#2e0000"/>
<circle cx="483.6" cy="1823.6" r="9.25" fill="#540000"/>
<circle cx="502.43" cy="1823.6" r="9.25" fill="#540000"/>
<circle cx="521.25" cy="1823.6" r="9.25" fill="#fd0000"/>
<circle cx="540.07" cy="1823.6" r="9.25" fill="#fd0000"/>
<circle cx="558.9" cy="1823.6" r="9.25" fill="#fd0000"/>
<circle cx="577.72" cy="1823.6" r="9.25" fill="#540000"/>
<circle cx="596.55" cy="1823.6" r="9.25" fill="#043b26"/>
<circle cx="615.37" cy="1823.6" r="9.25" fill="#fd0000"/>
<circle cx="634.2" cy="1823.6" r="9.25" fill="#9a0000"/>
<circle cx="653.02" cy="1823.6" r="9.25" fill="#9a0000"/>
<circle cx="671.85" cy="1823.6" r="9.25" fill="#043b26"/>
<circle cx="690.67" cy="1823.6" r="9.25" fill="#fd0000"/>
<circle cx="709.5" cy="1823.6" r="9.25" fill="#fd0000"/>
<circle cx="728.32" cy="1823.6" r="9.25" fill="#2e0000"/>
<circle cx="747.15" cy="1823.6" r="9.25" fill="#fd0000"/>
<circle cx="765.97" cy="1823.6" r="9.25" fill="#010b07"/>
<circle cx="784.8" cy="1823.6" r="9.25" fill="#2e0000"/>
<circle cx="803.62" cy="1823.6" r="9.25" fill="#fd0000"/>
<circle cx="822.45" cy="1823.6" r="9.25" fill="#540000"/>
<circle cx="841.27" cy="1823.6" r="9.25" fill="#9a0000"/>
<circle cx="860.1" cy="1823.6" r="9.25" fill="#540000"/>
<circle cx="878.92" cy="1823.6" r="9.25" fill="#540000"/>
<circle cx="897.75" cy="1823.6" r="9.25" fill="#fd0000"/>
<circle cx="916.57" cy="1823.6" r="9.25" fill="#fd0000"/>
<circle cx="935.4" cy="1823.6" r="9.25" fill="#fd0000"/>
<circle cx="954.22" cy="1823.6" r="9.25" fill="#fd0000"/>
<circle cx="973.05" cy="1823.6" r="9.25" fill="#fd0000"/>
<circle cx="991.87" cy="1823.6" r="9.25" fill="#540000"/>
<circle cx="1010.7" cy="1823.6" r="9.25" fill="#540000"/>
<circle cx="1029.52" cy="1823.6" r="9.25" fill="#fd0000"/>
<circle cx="1048.35" cy="1823.6" r="9.25" fill="#fd0000"/>
<circle cx="1067.17" cy="1823.6" r="9.25" fill="#0b8c5b"/>
<circle cx="1086" cy="1823.6" r="9.25" fill="#fd0000"/>
<circle cx="1104.82" cy="1823.6" r="9.25" fill="#540000"/>
<circle cx="1123.65" cy="1823.6" r="9.25" fill="#fd0000"/>
<circle cx="1142.47" cy="1823.6" r="9.25" fill="#fd0000"/>
<circle cx="1161.3" cy="1823.6" r="9.25" fill="#fd0000"/>
<circle cx="1180.12" cy="1823.6" r="9.25" fill="#fd0000"/>
<circle cx="1198.95" cy="1823.6" r="9.25" fill="#fd0000"/>
<circle cx="1217.77" cy="1823.6" r="9.25" fill="#07603f"/>
<circle cx="1236.6" cy="1823.6" r="9.25" fill="#097a4f"/>
<circle cx="1255.42" cy="1823.6" r="9.25" fill="#010b07"/>
<circle cx="1274.25" cy="1823.6" r="9.25" fill="#2e0000"/>
<circle cx="1293.07" cy="1823.6" r="9.25" fill="#fd0000"/>
<circle cx="1311.9" cy="1823.6" r="9.25" fill="#010b07"/>
<circle cx="1330.72" cy="1823.6" r="9.25" fill="#9a0000"/>
<circle cx="1349.55" cy="1823.6" r="9.25" fill="#043b26"/>
<circle cx="1368.38" cy="1823.6" r="9.25" fill="#fd0000"/>
<circle cx="1387.2" cy="1823.6" r="9.25" fill="#540000"/>
<circle cx="1406.02" cy="1823.6" r="9.25" fill="#e20000"/>
<circle cx="1424.85" cy="1823.6" r="9.25" fill="#043b26"/>
<circle cx="1443.67" cy="1823.6" r="9.25" fill="#010b07"/>
<circle cx="1462.5" cy="1823.6" r="9.25" fill="#043b26"/>
<circle cx="1481.32" cy="1823.6" r="9.25" fill="#043b26"/>
<circle cx="1500.15" cy="1823.6" r="9.25" fill="#07603f"/>
<circle cx="1518.97" cy="1823.6" r="9.25" fill="#043b26"/>
<circle cx="1537.8" cy="1823.6" r="9.25" fill="#010b07"/>
<circle cx="1556.62" cy="1823.6" r="9.25" fill="#010b07"/>
<circle cx="1575.45" cy="1823.6" r="9.25" fill="#fd0000"/>
<circle cx="1594.27" cy="1823.6" r="9.25" fill="#fd0000"/>
<circle cx="1613.1" cy="1823.6" r="9.25" fill="#043b26"/>
<circle cx="1631.92" cy="1823.6" r="9.25" fill="#fd0000"/>
<circle cx="1650.75" cy="1823.6" r="9.25" fill="#010b07"/>
<circle cx="1669.57" cy="1823.6" r="9.25" fill="#043b26"/>
<circle cx="1688.4" cy="1823.6" r="9.25" fill="#043b26"/>
<circle cx="1707.22" cy="1823.6" r="9.25" fill="#043b26"/>
<circle cx="1726.05" cy="1823.6" r="9.25" fill="#0b8c5b"/>
<circle cx="1744.88" cy="1823.6" r="9.25" fill="#540000"/>
<circle cx="1763.7" cy="1823.6" r="9.25" fill="#010b07"/>
<circle cx="1782.52" cy="1823.6" r="9.25" fill="#e20000"/>
<circle cx="31.8" cy="1842.62" r="9.25" fill="#fd0000"/>
<circle cx="50.62" cy="1842.62" r="9.25" fill="#010b07"/>
<circle cx="69.45" cy="1842.62" r="9.25" fill="#097a4f"/>
<circle cx="88.27" cy="1842.62" r="9.25" fill="#097a4f"/>
<circle cx="107.1" cy="1842.62" r="9.25" fill="#010b07"/>
<circle cx="125.92" cy="1842.62" r="9.25" fill="#010b07"/>
<circle cx="144.75" cy="1842.62" r="9.25" fill="#e20000"/>
<circle cx="163.58" cy="1842.62" r="9.25" fill="#fd0000"/>
<circle cx="182.4" cy="1842.62" r="9.25" fill="#e20000"/>
<circle cx="201.22" cy="1842.62" r="9.25" fill="#043b26"/>
<circle cx="220.05" cy="1842.62" r="9.25" fill="#07603f"/>
<circle cx="238.88" cy="1842.62" r="9.25" fill="#0b8c5b"/>
<circle cx="257.7" cy="1842.62" r="9.25" fill="#043b26"/>
<circle cx="276.52" cy="1842.62" r="9.25" fill="#043b26"/>
<circle cx="295.35" cy="1842.62" r="9.25" fill="#07603f"/>
<circle cx="314.18" cy="1842.62" r="9.25" fill="#0b8c5b"/>
<circle cx="333" cy="1842.62" r="9.25" fill="#097a4f"/>
<circle cx="351.82" cy="1842.62" r="9.25" fill="#0b8c5b"/>
<circle cx="370.65" cy="1842.62" r="9.25" fill="#07603f"/>
<circle cx="389.48" cy="1842.62" r="9.25" fill="#043b26"/>
<circle cx="408.3" cy="1842.62" r="9.25" fill="#010b07"/>
<circle cx="427.12" cy="1842.62" r="9.25" fill="#0fa56c"/>
<circle cx="445.95" cy="1842.62" r="9.25" fill="#097a4f"/>
<circle cx="464.77" cy="1842.62" r="9.25" fill="#07603f"/>
<circle cx="483.6" cy="1842.62" r="9.25" fill="#07603f"/>
<circle cx="502.43" cy="1842.62" r="9.25" fill="#07603f"/>
<circle cx="521.25" cy="1842.62" r="9.25" fill="#0b8c5b"/>
<circle cx="540.07" cy="1842.62" r="9.25" fill="#097a4f"/>
<circle cx="558.9" cy="1842.62" r="9.25" fill="#010b07"/>
<circle cx="577.72" cy="1842.62" r="9.25" fill="#07603f"/>
<circle cx="596.55" cy="1842.62" r="9.25" fill="#0b8c5b"/>
<circle cx="615.37" cy="1842.62" r="9.25" fill="#07603f"/>
<circle cx="634.2" cy="1842.62" r="9.25" fill="#097a4f"/>
<circle cx="653.02" cy="1842.62" r="9.25" fill="#097a4f"/>
<circle cx="671.85" cy="1842.62" r="9.25" fill="#0b8c5b"/>
<circle cx="690.67" cy="1842.62" r="9.25" fill="#0b8c5b"/>
<circle cx="709.5" cy="1842.62" r="9.25" fill="#07603f"/>
<circle cx="728.32" cy="1842.62" r="9.25" fill="#07603f"/>
<circle cx="747.15" cy="1842.62" r="9.25" fill="#fd0000"/>
<circle cx="765.97" cy="1842.62" r="9.25" fill="#097a4f"/>
<circle cx="784.8" cy="1842.62" r="9.25" fill="#07603f"/>
<circle cx="803.62" cy="1842.62" r="9.25" fill="#010b07"/>
<circle cx="822.45" cy="1842.62" r="9.25" fill="#07603f"/>
<circle cx="841.27" cy="1842.62" r="9.25" fill="#043b26"/>
<circle cx="860.1" cy="1842.62" r="9.25" fill="#540000"/>
<circle cx="878.92" cy="1842.62" r="9.25" fill="#e20000"/>
<circle cx="897.75" cy="1842.62" r="9.25" fill="#fd0000"/>
<circle cx="916.57" cy="1842.62" r="9.25" fill="#fd0000"/>
<circle cx="935.4" cy="1842.62" r="9.25" fill="#fd0000"/>
<circle cx="954.22" cy="1842.62" r="9.25" fill="#0fa56c"/>
<circle cx="973.05" cy="1842.62" r="9.25" fill="#fd0000"/>
<circle cx="991.87" cy="1842.62" r="9.25" fill="#e20000"/>
<circle cx="1010.7" cy="1842.62" r="9.25" fill="#e20000"/>
<circle cx="1029.52" cy="1842.62" r="9.25" fill="#fd0000"/>
<circle cx="1048.35" cy="1842.62" r="9.25" fill="#fd0000"/>
<circle cx="1067.17" cy="1842.62" r="9.25" fill="#07603f"/>
<circle cx="1086" cy="1842.62" r="9.25" fill="#043b26"/>
<circle cx="1104.82" cy="1842.62" r="9.25" fill="#043b26"/>
<circle cx="1123.65" cy="1842.62" r="9.25" fill="#07603f"/>
<circle cx="1142.47" cy="1842.62" r="9.25" fill="#fd0000"/>
<circle cx="1161.3" cy="1842.62" r="9.25" fill="#0fa56c"/>
<circle cx="1180.12" cy="1842.62" r="9.25" fill="#097a4f"/>
<circle cx="1198.95" cy="1842.62" r="9.25" fill="#0fa56c"/>
<circle cx="1217.77" cy="1842.62" r="9.25" fill="#010b07"/>
<circle cx="1236.6" cy="1842.62" r="9.25" fill="#0b8c5b"/>
<circle cx="1255.42" cy="1842.62" r="9.25" fill="#043b26"/>
<circle cx="1274.25" cy="1842.62" r="9.25" fill="#07603f"/>
<circle cx="1293.07" cy="1842.62" r="9.25" fill="#043b26"/>
<circle cx="1311.9" cy="1842.62" r="9.25" fill="#043b26"/>
<circle cx="1330.72" cy="1842.62" r="9.25" fill="#540000"/>
<circle cx="1349.55" cy="1842.62" r="9.25" fill="#0b8c5b"/>
<circle cx="1368.38" cy="1842.62" r="9.25" fill="#043b26"/>
<circle cx="1387.2" cy="1842.62" r="9.25" fill="#010b07"/>
<circle cx="1406.02" cy="1842.62" r="9.25" fill="#07603f"/>
<circle cx="1424.85" cy="1842.62" r="9.25" fill="#097a4f"/>
<circle cx="1443.67" cy="1842.62" r="9.25" fill="#07603f"/>
<circle cx="1462.5" cy="1842.62" r="9.25" fill="#097a4f"/>
<circle cx="1481.32" cy="1842.62" r="9.25" fill="#0b8c5b"/>
<circle cx="1500.15" cy="1842.62" r="9.25" fill="#097a4f"/>
<circle cx="1518.97" cy="1842.62" r="9.25" fill="#097a4f"/>
<circle cx="1537.8" cy="1842.62" r="9.25" fill="#0b8c5b"/>
<circle cx="1556.62" cy="1842.62" r="9.25" fill="#540000"/>
<circle cx="1575.45" cy="1842.62" r="9.25" fill="#043b26"/>
<circle cx="1594.27" cy="1842.62" r="9.25" fill="#0b8c5b"/>
<circle cx="1613.1" cy="1842.62" r="9.25" fill="#07603f"/>
<circle cx="1631.92" cy="1842.62" r="9.25" fill="#fd0000"/>
<circle cx="1650.75" cy="1842.62" r="9.25" fill="#097a4f"/>
<circle cx="1669.57" cy="1842.62" r="9.25" fill="#07603f"/>
<circle cx="1688.4" cy="1842.62" r="9.25" fill="#540000"/>
<circle cx="1707.22" cy="1842.62" r="9.25" fill="#010b07"/>
<circle cx="1726.05" cy="1842.62" r="9.25" fill="#0fa56c"/>
<circle cx="1744.88" cy="1842.62" r="9.25" fill="#043b26"/>
<circle cx="1763.7" cy="1842.62" r="9.25" fill="#043b26"/>
<circle cx="1782.52" cy="1842.62" r="9.25" fill="#010b07"/>
<circle cx="31.8" cy="1861.64" r="9.25" fill="#fd0000"/>
<circle cx="50.62" cy="1861.64" r="9.25" fill="#010b07"/>
<circle cx="69.45" cy="1861.64" r="9.25" fill="#043b26"/>
<circle cx="88.27" cy="1861.64" r="9.25" fill="#043b26"/>
<circle cx="107.1" cy="1861.64" r="9.25" fill="#e20000"/>
<circle cx="125.92" cy="1861.64" r="9.25" fill="#010b07"/>
<circle cx="144.75" cy="1861.64" r="9.25" fill="#e20000"/>
<circle cx="163.58" cy="1861.64" r="9.25" fill="#fd0000"/>
<circle cx="182.4" cy="1861.64" r="9.25" fill="#e20000"/>
<circle cx="201.22" cy="1861.64" r="9.25" fill="#540000"/>
<circle cx="220.05" cy="1861.64" r="9.25" fill="#07603f"/>
<circle cx="238.88" cy="1861.64" r="9.25" fill="#0b8c5b"/>
<circle cx="257.7" cy="1861.64" r="9.25" fill="#043b26"/>
<circle cx="276.52" cy="1861.64" r="9.25" fill="#043b26"/>
<circle cx="295.35" cy="1861.64" r="9.25" fill="#07603f"/>
<circle cx="314.18" cy="1861.64" r="9.25" fill="#07603f"/>
<circle cx="333" cy="1861.64" r="9.25" fill="#043b26"/>
<circle cx="351.82" cy="1861.64" r="9.25" fill="#07603f"/>
<circle cx="370.65" cy="1861.64" r="9.25" fill="#07603f"/>
<circle cx="389.48" cy="1861.64" r="9.25" fill="#043b26"/>
<circle cx="408.3" cy="1861.64" r="9.25" fill="#e20000"/>
<circle cx="427.12" cy="1861.64" r="9.25" fill="#0b8c5b"/>
<circle cx="445.95" cy="1861.64" r="9.25" fill="#097a4f"/>
<circle cx="464.77" cy="1861.64" r="9.25" fill="#07603f"/>
<circle cx="483.6" cy="1861.64" r="9.25" fill="#07603f"/>
<circle cx="502.43" cy="1861.64" r="9.25" fill="#010b07"/>
<circle cx="521.25" cy="1861.64" r="9.25" fill="#07603f"/>
<circle cx="540.07" cy="1861.64" r="9.25" fill="#097a4f"/>
<circle cx="558.9" cy="1861.64" r="9.25" fill="#010b07"/>
<circle cx="577.72" cy="1861.64" r="9.25" fill="#07603f"/>
<circle cx="596.55" cy="1861.64" r="9.25" fill="#0b8c5b"/>
<circle cx="615.37" cy="1861.64" r="9.25" fill="#010b07"/>
<circle cx="634.2" cy="1861.64" r="9.25" fill="#097a4f"/>
<circle cx="653.02" cy="1861.64" r="9.25" fill="#097a4f"/>
<circle cx="671.85" cy="1861.64" r="9.25" fill="#097a4f"/>
<circle cx="690.67" cy="1861.64" r="9.25" fill="#0b8c5b"/>
<circle cx="709.5" cy="1861.64" r="9.25" fill="#07603f"/>
<circle cx="728.32" cy="1861.64" r="9.25" fill="#07603f"/>
<circle cx="747.15" cy="1861.64" r="9.25" fill="#fd0000"/>
<circle cx="765.97" cy="1861.64" r="9.25" fill="#097a4f"/>
<circle cx="784.8" cy="1861.64" r="9.25" fill="#07603f"/>
<circle cx="803.62" cy="1861.64" r="9.25" fill="#010b07"/>
<circle cx="822.45" cy="1861.64" r="9.25" fill="#07603f"/>
<circle cx="841.27" cy="1861.64" r="9.25" fill="#540000"/>
<circle cx="860.1" cy="1861.64" r="9.25" fill="#540000"/>
<circle cx="878.92" cy="1861.64" r="9.25" fill="#e20000"/>
<circle cx="897.75" cy="1861.64" r="9.25" fill="#fd0000"/>
<circle cx="916.57" cy="1861.64" r="9.25" fill="#fd0000"/>
<circle cx="935.4" cy="1861.64" r="9.25" fill="#fd0000"/>
<circle cx="954.22" cy="1861.64" r="9.25" fill="#fd0000"/>
<circle cx="973.05" cy="1861.64" r="9.25" fill="#fd0000"/>
<circle cx="991.87" cy="1861.64" r="9.25" fill="#e20000"/>
<circle cx="1010.7" cy="1861.64" r="9.25" fill="#e20000"/>
<circle cx="1029.52" cy="1861.64" r="9.25" fill="#fd0000"/>
<circle cx="1048.35" cy="1861.64" r="9.25" fill="#fd0000"/>
<circle cx="1067.17" cy="1861.64" r="9.25" fill="#07603f"/>
<circle cx="1086" cy="1861.64" r="9.25" fill="#043b26"/>
<circle cx="1104.82" cy="1861.64" r="9.25" fill="#043b26"/>
<circle cx="1123.65" cy="1861.64" r="9.25" fill="#07603f"/>
<circle cx="1142.47" cy="1861.64" r="9.25" fill="#fd0000"/>
<circle cx="1161.3" cy="1861.64" r="9.25" fill="#fd0000"/>
<circle cx="1180.12" cy="1861.64" r="9.25" fill="#043b26"/>
<circle cx="1198.95" cy="1861.64" r="9.25" fill="#043b26"/>
<circle cx="1217.77" cy="1861.64" r="9.25" fill="#010b07"/>
<circle cx="1236.6" cy="1861.64" r="9.25" fill="#0b8c5b"/>
<circle cx="1255.42" cy="1861.64" r="9.25" fill="#043b26"/>
<circle cx="1274.25" cy="1861.64" r="9.25" fill="#07603f"/>
<circle cx="1293.07" cy="1861.64" r="9.25" fill="#043b26"/>
<circle cx="1311.9" cy="1861.64" r="9.25" fill="#0b8c5b"/>
<circle cx="1330.72" cy="1861.64" r="9.25" fill="#540000"/>
<circle cx="1349.55" cy="1861.64" r="9.25" fill="#0b8c5b"/>
<circle cx="1368.38" cy="1861.64" r="9.25" fill="#043b26"/>
<circle cx="1387.2" cy="1861.64" r="9.25" fill="#010b07"/>
<circle cx="1406.02" cy="1861.64" r="9.25" fill="#07603f"/>
<circle cx="1424.85" cy="1861.64" r="9.25" fill="#097a4f"/>
<circle cx="1443.67" cy="1861.64" r="9.25" fill="#07603f"/>
<circle cx="1462.5" cy="1861.64" r="9.25" fill="#097a4f"/>
<circle cx="1481.32" cy="1861.64" r="9.25" fill="#0b8c5b"/>
<circle cx="1500.15" cy="1861.64" r="9.25" fill="#097a4f"/>
<circle cx="1518.97" cy="1861.64" r="9.25" fill="#097a4f"/>
<circle cx="1537.8" cy="1861.64" r="9.25" fill="#07603f"/>
<circle cx="1556.62" cy="1861.64" r="9.25" fill="#540000"/>
<circle cx="1575.45" cy="1861.64" r="9.25" fill="#043b26"/>
<circle cx="1594.27" cy="1861.64" r="9.25" fill="#0b8c5b"/>
<circle cx="1613.1" cy="1861.64" r="9.25" fill="#010b07"/>
<circle cx="1631.92" cy="1861.64" r="9.25" fill="#fd0000"/>
<circle cx="1650.75" cy="1861.64" r="9.25" fill="#097a4f"/>
<circle cx="1669.57" cy="1861.64" r="9.25" fill="#07603f"/>
<circle cx="1688.4" cy="1861.64" r="9.25" fill="#540000"/>
<circle cx="1707.22" cy="1861.64" r="9.25" fill="#010b07"/>
<circle cx="1726.05" cy="1861.64" r="9.25" fill="#097a4f"/>
<circle cx="1744.88" cy="1861.64" r="9.25" fill="#540000"/>
<circle cx="1763.7" cy="1861.64" r="9.25" fill="#043b26"/>
<circle cx="1782.52" cy="1861.64" r="9.25" fill="#010b07"/>
<circle cx="31.8" cy="1880.66" r="9.25" fill="#fd0000"/>
<circle cx="50.62" cy="1880.66" r="9.25" fill="#fd0000"/>
<circle cx="69.45" cy="1880.66" r="9.25" fill="#07603f"/>
<circle cx="88.27" cy="1880.66" r="9.25" fill="#9a0000"/>
<circle cx="107.1" cy="1880.66" r="9.25" fill="#2e0000"/>
<circle cx="125.92" cy="1880.66" r="9.25" fill="#043b26"/>
<circle cx="144.75" cy="1880.66" r="9.25" fill="#2e0000"/>
<circle cx="163.58" cy="1880.66" r="9.25" fill="#fd0000"/>
<circle cx="182.4" cy="1880.66" r="9.25" fill="#2e0000"/>
<circle cx="201.22" cy="1880.66" r="9.25" fill="#043b26"/>
<circle cx="220.05" cy="1880.66" r="9.25" fill="#0b8c5b"/>
<circle cx="238.88" cy="1880.66" r="9.25" fill="#0fa56c"/>
<circle cx="257.7" cy="1880.66" r="9.25" fill="#010b07"/>
<circle cx="276.52" cy="1880.66" r="9.25" fill="#097a4f"/>
<circle cx="295.35" cy="1880.66" r="9.25" fill="#0b8c5b"/>
<circle cx="314.18" cy="1880.66" r="9.25" fill="#0b8c5b"/>
<circle cx="333" cy="1880.66" r="9.25" fill="#043b26"/>
<circle cx="351.82" cy="1880.66" r="9.25" fill="#0b8c5b"/>
<circle cx="370.65" cy="1880.66" r="9.25" fill="#0b8c5b"/>
<circle cx="389.48" cy="1880.66" r="9.25" fill="#097a4f"/>
<circle cx="408.3" cy="1880.66" r="9.25" fill="#010b07"/>
<circle cx="427.12" cy="1880.66" r="9.25" fill="#0b8c5b"/>
<circle cx="445.95" cy="1880.66" r="9.25" fill="#0b8c5b"/>
<circle cx="464.77" cy="1880.66" r="9.25" fill="#0b8c5b"/>
<circle cx="483.6" cy="1880.66" r="9.25" fill="#097a4f"/>
<circle cx="502.43" cy="1880.66" r="9.25" fill="#043b26"/>
<circle cx="521.25" cy="1880.66" r="9.25" fill="#097a4f"/>
<circle cx="540.07" cy="1880.66" r="9.25" fill="#0b8c5b"/>
<circle cx="558.9" cy="1880.66" r="9.25" fill="#010b07"/>
<circle cx="577.72" cy="1880.66" r="9.25" fill="#097a4f"/>
<circle cx="596.55" cy="1880.66" r="9.25" fill="#0b8c5b"/>
<circle cx="615.37" cy="1880.66" r="9.25" fill="#010b07"/>
<circle cx="634.2" cy="1880.66" r="9.25" fill="#097a4f"/>
<circle cx="653.02" cy="1880.66" r="9.25" fill="#097a4f"/>
<circle cx="671.85" cy="1880.66" r="9.25" fill="#0b8c5b"/>
<circle cx="690.67" cy="1880.66" r="9.25" fill="#0b8c5b"/>
<circle cx="709.5" cy="1880.66" r="9.25" fill="#097a4f"/>
<circle cx="728.32" cy="1880.66" r="9.25" fill="#07603f"/>
<circle cx="747.15" cy="1880.66" r="9.25" fill="#540000"/>
<circle cx="765.97" cy="1880.66" r="9.25" fill="#097a4f"/>
<circle cx="784.8" cy="1880.66" r="9.25" fill="#0b8c5b"/>
<circle cx="803.62" cy="1880.66" r="9.25" fill="#043b26"/>
<circle cx="822.45" cy="1880.66" r="9.25" fill="#097a4f"/>
<circle cx="841.27" cy="1880.66" r="9.25" fill="#043b26"/>
<circle cx="860.1" cy="1880.66" r="9.25" fill="#043b26"/>
<circle cx="878.92" cy="1880.66" r="9.25" fill="#2e0000"/>
<circle cx="897.75" cy="1880.66" r="9.25" fill="#540000"/>
<circle cx="916.57" cy="1880.66" r="9.25" fill="#fd0000"/>
<circle cx="935.4" cy="1880.66" r="9.25" fill="#fd0000"/>
<circle cx="954.22" cy="1880.66" r="9.25" fill="#fd0000"/>
<circle cx="973.05" cy="1880.66" r="9.25" fill="#fd0000"/>
<circle cx="991.87" cy="1880.66" r="9.25" fill="#2e0000"/>
<circle cx="1010.7" cy="1880.66" r="9.25" fill="#2e0000"/>
<circle cx="1029.52" cy="1880.66" r="9.25" fill="#fd0000"/>
<circle cx="1048.35" cy="1880.66" r="9.25" fill="#fd0000"/>
<circle cx="1067.17" cy="1880.66" r="9.25" fill="#07603f"/>
<circle cx="1086" cy="1880.66" r="9.25" fill="#07603f"/>
<circle cx="1104.82" cy="1880.66" r="9.25" fill="#07603f"/>
<circle cx="1123.65" cy="1880.66" r="9.25" fill="#07603f"/>
<circle cx="1142.47" cy="1880.66" r="9.25" fill="#fd0000"/>
<circle cx="1161.3" cy="1880.66" r="9.25" fill="#e20000"/>
<circle cx="1180.12" cy="1880.66" r="9.25" fill="#fd0000"/>
<circle cx="1198.95" cy="1880.66" r="9.25" fill="#097a4f"/>
<circle cx="1217.77" cy="1880.66" r="9.25" fill="#043b26"/>
<circle cx="1236.6" cy="1880.66" r="9.25" fill="#0b8c5b"/>
<circle cx="1255.42" cy="1880.66" r="9.25" fill="#07603f"/>
<circle cx="1274.25" cy="1880.66" r="9.25" fill="#097a4f"/>
<circle cx="1293.07" cy="1880.66" r="9.25" fill="#097a4f"/>
<circle cx="1311.9" cy="1880.66" r="9.25" fill="#0b8c5b"/>
<circle cx="1330.72" cy="1880.66" r="9.25" fill="#fd0000"/>
<circle cx="1349.55" cy="1880.66" r="9.25" fill="#0b8c5b"/>
<circle cx="1368.38" cy="1880.66" r="9.25" fill="#010b07"/>
<circle cx="1387.2" cy="1880.66" r="9.25" fill="#010b07"/>
<circle cx="1406.02" cy="1880.66" r="9.25" fill="#0b8c5b"/>
<circle cx="1424.85" cy="1880.66" r="9.25" fill="#097a4f"/>
<circle cx="1443.67" cy="1880.66" r="9.25" fill="#07603f"/>
<circle cx="1462.5" cy="1880.66" r="9.25" fill="#097a4f"/>
<circle cx="1481.32" cy="1880.66" r="9.25" fill="#0b8c5b"/>
<circle cx="1500.15" cy="1880.66" r="9.25" fill="#0b8c5b"/>
<circle cx="1518.97" cy="1880.66" r="9.25" fill="#07603f"/>
<circle cx="1537.8" cy="1880.66" r="9.25" fill="#0b8c5b"/>
<circle cx="1556.62" cy="1880.66" r="9.25" fill="#043b26"/>
<circle cx="1575.45" cy="1880.66" r="9.25" fill="#fd0000"/>
<circle cx="1594.27" cy="1880.66" r="9.25" fill="#fd0000"/>
<circle cx="1613.1" cy="1880.66" r="9.25" fill="#043b26"/>
<circle cx="1631.92" cy="1880.66" r="9.25" fill="#fd0000"/>
<circle cx="1650.75" cy="1880.66" r="9.25" fill="#0b8c5b"/>
<circle cx="1669.57" cy="1880.66" r="9.25" fill="#0b8c5b"/>
<circle cx="1688.4" cy="1880.66" r="9.25" fill="#540000"/>
<circle cx="1707.22" cy="1880.66" r="9.25" fill="#043b26"/>
<circle cx="1726.05" cy="1880.66" r="9.25" fill="#0b8c5b"/>
<circle cx="1744.88" cy="1880.66" r="9.25" fill="#010b07"/>
<circle cx="1763.7" cy="1880.66" r="9.25" fill="#07603f"/>
<circle cx="1782.52" cy="1880.66" r="9.25" fill="#07603f"/>
<text transform="translate(27.5 1899.3) rotate(90)" font-size="16">Lrp2</text>
<text transform="translate(46.33 1899.3) rotate(90)" font-size="16">Socs2</text>
<text transform="translate(65.15 1899.3) rotate(90)" font-size="16">Nfkb1</text>
<text transform="translate(83.97 1899.3) rotate(90)" font-size="16">Il18</text>
<text transform="translate(102.8 1899.3) rotate(90)" font-size="16">Smad3</text>
<text transform="translate(121.62 1899.3) rotate(90)" font-size="16">H2-Eb1</text>
<text transform="translate(140.45 1899.3) rotate(90)" font-size="16">Tnfrsf18</text>
<text transform="translate(159.28 1899.3) rotate(90)" font-size="16">Il2</text>
<text transform="translate(178.1 1899.3) rotate(90)" font-size="16">Csf2</text>
<text transform="translate(196.92 1899.3) rotate(90)" font-size="16">Il4</text>
<text transform="translate(215.75 1899.3) rotate(90)" font-size="16">Stat1</text>
<text transform="translate(234.57 1899.3) rotate(90)" font-size="16">Ica1</text>
<text transform="translate(253.4 1899.3) rotate(90)" font-size="16">Socs1</text>
<text transform="translate(272.22 1899.3) rotate(90)" font-size="16">Cxcl10</text>
<text transform="translate(291.05 1899.3) rotate(90)" font-size="16">Tnf</text>
<text transform="translate(309.88 1899.3) rotate(90)" font-size="16">Il1a</text>
<text transform="translate(328.7 1899.3) rotate(90)" font-size="16">Il13</text>
<text transform="translate(347.52 1899.3) rotate(90)" font-size="16">Cxcl11</text>
<text transform="translate(366.35 1899.3) rotate(90)" font-size="16">Il1b</text>
<text transform="translate(385.18 1899.3) rotate(90)" font-size="16">Il17a</text>
<text transform="translate(404 1899.3) rotate(90)" font-size="16">Ifng</text>
<text transform="translate(422.82 1899.3) rotate(90)" font-size="16">Ptgs2</text>
<text transform="translate(441.65 1899.3) rotate(90)" font-size="16">Ccl3</text>
<text transform="translate(460.47 1899.3) rotate(90)" font-size="16">Hmox1</text>
<text transform="translate(479.3 1899.3) rotate(90)" font-size="16">Csf1</text>
<text transform="translate(498.12 1899.3) rotate(90)" font-size="16">Ski</text>
<text transform="translate(516.95 1899.3) rotate(90)" font-size="16">Vegfa</text>
<text transform="translate(535.77 1899.3) rotate(90)" font-size="16">Gzmb</text>
<text transform="translate(554.6 1899.3) rotate(90)" font-size="16">Il10</text>
<text transform="translate(573.42 1899.3) rotate(90)" font-size="16">Nfkb2</text>
<text transform="translate(592.25 1899.3) rotate(90)" font-size="16">Cd86</text>
<text transform="translate(611.07 1899.3) rotate(90)" font-size="16">Il15</text>
<text transform="translate(629.9 1899.3) rotate(90)" font-size="16">Smad7</text>
<text transform="translate(648.73 1899.3) rotate(90)" font-size="16">Bcl2l1</text>
<text transform="translate(667.55 1899.3) rotate(90)" font-size="16">Cd40</text>
<text transform="translate(686.38 1899.3) rotate(90)" font-size="16">Nos2</text>
<text transform="translate(705.2 1899.3) rotate(90)" font-size="16">Csf3</text>
<text transform="translate(724.02 1899.3) rotate(90)" font-size="16">Cd38</text>
<text transform="translate(742.85 1899.3) rotate(90)" font-size="16">Ctla4</text>
<text transform="translate(761.67 1899.3) rotate(90)" font-size="16">Fas</text>
<text transform="translate(780.5 1899.3) rotate(90)" font-size="16">Cd8a</text>
<text transform="translate(799.32 1899.3) rotate(90)" font-size="16">Tbx21</text>
<text transform="translate(818.15 1899.3) rotate(90)" font-size="16">Fasl</text>
<text transform="translate(836.98 1899.3) rotate(90)" font-size="16">Ccl5</text>
<text transform="translate(855.8 1899.3) rotate(90)" font-size="16">Vcam1</text>
<text transform="translate(874.62 1899.3) rotate(90)" font-size="16">Cxcr3</text>
<text transform="translate(893.45 1899.3) rotate(90)" font-size="16">Selp</text>
<text transform="translate(912.27 1899.3) rotate(90)" font-size="16">Cd40lg</text>
<text transform="translate(931.1 1899.3) rotate(90)" font-size="16">Icos</text>
<text transform="translate(949.92 1899.3) rotate(90)" font-size="16">Cyp1a2</text>
<text transform="translate(968.75 1899.3) rotate(90)" font-size="16">Ccr4</text>
<text transform="translate(987.57 1899.3) rotate(90)" font-size="16">Cd3e</text>
<text transform="translate(1006.4 1899.3) rotate(90)" font-size="16">Cd4</text>
<text transform="translate(1025.22 1899.3) rotate(90)" font-size="16">Sele</text>
<text transform="translate(1044.05 1899.3) rotate(90)" font-size="16">Agtr2</text>
<text transform="translate(1062.88 1899.3) rotate(90)" font-size="16">Cd19</text>
<text transform="translate(1081.7 1899.3) rotate(90)" font-size="16">Il6</text>
<text transform="translate(1100.52 1899.3) rotate(90)" font-size="16">Stat4</text>
<text transform="translate(1119.35 1899.3) rotate(90)" font-size="16">Ccl2</text>
<text transform="translate(1138.17 1899.3) rotate(90)" font-size="16">Il9</text>
<text transform="translate(1157 1899.3) rotate(90)" font-size="16">Il3</text>
<text transform="translate(1175.83 1899.3) rotate(90)" font-size="16">Lta</text>
<text transform="translate(1194.65 1899.3) rotate(90)" font-size="16">Cyp7a1</text>
<text transform="translate(1213.47 1899.3) rotate(90)" font-size="16">Ccl19</text>
<text transform="translate(1232.3 1899.3) rotate(90)" font-size="16">Stat6</text>
<text transform="translate(1251.12 1899.3) rotate(90)" font-size="16">Stat3</text>
<text transform="translate(1269.95 1899.3) rotate(90)" font-size="16">Lif</text>
<text transform="translate(1288.77 1899.3) rotate(90)" font-size="16">Il2ra</text>
<text transform="translate(1307.6 1899.3) rotate(90)" font-size="16">Bax</text>
<text transform="translate(1326.42 1899.3) rotate(90)" font-size="16">Ace</text>
<text transform="translate(1345.25 1899.3) rotate(90)" font-size="16">Tgfb1</text>
<text transform="translate(1364.08 1899.3) rotate(90)" font-size="16">Ccr2</text>
<text transform="translate(1382.9 1899.3) rotate(90)" font-size="16">Edn1</text>
<text transform="translate(1401.72 1899.3) rotate(90)" font-size="16">Cd80</text>
<text transform="translate(1420.55 1899.3) rotate(90)" font-size="16">Bcl2</text>
<text transform="translate(1439.38 1899.3) rotate(90)" font-size="16">Ikbkb</text>
<text transform="translate(1458.2 1899.3) rotate(90)" font-size="16">Ly96</text>
<text transform="translate(1477.02 1899.3) rotate(90)" font-size="16">Prf1</text>
<text transform="translate(1495.85 1899.3) rotate(90)" font-size="16">C3</text>
<text transform="translate(1514.67 1899.3) rotate(90)" font-size="16">Hprt1</text>
<text transform="translate(1533.5 1899.3) rotate(90)" font-size="16">18S</text>
<text transform="translate(1552.33 1899.3) rotate(90)" font-size="16">Il7</text>
<text transform="translate(1571.15 1899.3) rotate(90)" font-size="16">Il12b</text>
<text transform="translate(1589.97 1899.3) rotate(90)" font-size="16">Il12a</text>
<text transform="translate(1608.8 1899.3) rotate(90)" font-size="16">Nfatc3</text>
<text transform="translate(1627.62 1899.3) rotate(90)" font-size="16">H2-Ea</text>
<text transform="translate(1646.45 1899.3) rotate(90)" font-size="16">Ptprc</text>
<text transform="translate(1665.27 1899.3) rotate(90)" font-size="16">Gusb</text>
<text transform="translate(1684.1 1899.3) rotate(90)" font-size="16">Cd34</text>
<text transform="translate(1702.92 1899.3) rotate(90)" font-size="16">Fn1</text>
<text transform="translate(1721.75 1899.3) rotate(90)" font-size="16">Il5</text>
<text transform="translate(1740.58 1899.3) rotate(90)" font-size="16">Cd28</text>
<text transform="translate(1759.4 1899.3) rotate(90)" font-size="16">Cd68</text>
<text transform="translate(1778.22 1899.3) rotate(90)" font-size="16">Ccr7</text>
<text transform="translate(1802.3 1703.5) rotate(90)" font-size="16">id</text>
<text transform="translate(1802.3 1895) rotate(90)" font-size="16">id</text>
<text x="1801.6" y="1731.6" font-size="16.3">C10-3</text>
<text x="1801.6" y="1750.44" font-size="16.3">C10-2</text>
<text x="1801.6" y="1769.28" font-size="16.3">C10-1</text>
<text x="1801.6" y="1788.12" font-size="16.3">D6-3</text>
<text x="1801.6" y="1806.96" font-size="16.3">D6-2</text>
<text x="1801.6" y="1825.8" font-size="16.3">D6-1</text>
<text x="1801.6" y="1844.64" font-size="16.3">F5-3</text>
<text x="1801.6" y="1863.48" font-size="16.3">F5-2</text>
<text x="1801.6" y="1882.32" font-size="16.3">F5-1</text>
<path d="M31.8 1711.5V1576.2H916.57V1606.8 M558.9 1634.5V1606.8H1434.26V1629.1 M445.95 1670V1634.5H963.64V1642 M69.45 1687V1670H474.19V1676.4 M50.62 1711.5V1687H78.86V1692.6 M69.45 1711.5V1692.6H88.27V1711.5 M445.95 1690.6V1676.4H822.45V1691.3 M389.47 1695.4V1690.6H737.74V1698.3 M144.75 1701.4V1695.4H436.54V1699.2 M116.51 1707V1701.4H163.57V1707 M107.1 1711.5V1707H125.92V1711.5 M154.16 1711V1707H182.4V1711.5 M144.75 1711.5V1711H163.58V1711.5 M201.22 1711.5V1699.2H445.95V1702.1 M220.05 1711.5V1702.1H455.36V1705.4 M436.54 1706.5V1705.4H662.44V1708.5 M333 1708.3V1706.5H540.07V1708.3 M285.94 1709.29V1708.3H389.48V1709.29 M257.7 1709.83V1709.29H314.18V1709.83 M248.29 1710.5V1709.83H276.52V1711.5 M238.88 1711.5V1710.5H257.7V1711.5 M304.76 1710.5V1709.83H333V1711.5 M295.35 1711.5V1710.5H314.18V1711.5 M370.65 1709.83V1709.29H417.71V1710.5 M361.24 1710.5V1709.83H389.48V1711.5 M351.82 1711.5V1710.5H370.65V1711.5 M408.3 1711.5V1710.5H427.12V1711.5 M493.01 1709.29V1708.3H596.55V1709.29 M464.77 1709.83V1709.29H521.25V1709.83 M455.36 1710.5V1709.83H483.6V1711.5 M445.95 1711.5V1710.5H464.77V1711.5 M511.84 1710.5V1709.83H540.07V1711.5 M502.43 1711.5V1710.5H521.25V1711.5 M577.72 1709.83V1709.29H624.79V1710.5 M568.31 1710.5V1709.83H596.55V1711.5 M558.9 1711.5V1710.5H577.72V1711.5 M615.37 1711.5V1710.5H634.2V1711.5 M653.02 1711.5V1708.5H671.85V1711.5 M718.91 1706.7V1698.3H775.39V1706.7 M709.5 1708.5V1706.7H747.15V1711.5 M700.09 1710V1708.5H728.32V1711.5 M690.67 1711.5V1710H709.5V1711.5 M765.97 1711.5V1706.7H784.8V1711.5 M813.04 1706.7V1691.3H841.27V1711.5 M803.62 1711.5V1706.7H822.45V1711.5 M954.22 1657.9V1642H1067.17V1711.5 M935.4 1667.2V1657.9H1038.94V1687.7 M869.51 1687V1667.2H954.22V1669.7 M860.1 1711.5V1687H878.92V1711.5 M944.81 1686.7V1669.7H1010.7V1711.5 M935.4 1696.7V1686.7H991.87V1711.5 M916.57 1705.7V1696.7H963.64V1702 M907.16 1708V1705.7H935.4V1711.5 M897.75 1711.5V1708H916.57V1711.5 M954.22 1711.5V1702H973.05V1711.5 M1029.52 1711.5V1687.7H1048.35V1711.5 M1311.9 1636.3V1629.1H1669.57V1632.6 M1151.89 1687.1V1636.3H1387.2V1666.2 M1104.82 1698.8V1687.1H1180.12V1692.6 M1086 1711.5V1698.8H1114.24V1702.7 M1104.82 1711.5V1702.7H1123.65V1711.5 M1170.71 1709.2V1692.6H1217.77V1711.5 M1151.89 1709.6V1709.2H1189.54V1709.6 M1142.47 1711.5V1709.6H1161.3V1711.5 M1180.12 1711.5V1709.6H1198.95V1711.5 M1330.72 1673.6V1666.2H1490.74V1680.9 M1274.25 1682.4V1673.6H1377.79V1685.3 M1264.84 1690.6V1682.4H1311.9V1711.5 M1246.01 1709.2V1690.6H1283.66V1699.4 M1236.6 1711.5V1709.2H1255.42V1711.5 M1274.25 1711.5V1699.4H1293.07V1711.5 M1330.72 1711.5V1685.3H1387.2V1691.2 M1358.96 1708.2V1691.2H1406.02V1696.5 M1349.55 1711.5V1708.2H1368.38V1711.5 M1396.61 1702.7V1696.5H1424.85V1711.5 M1387.2 1711.5V1702.7H1406.02V1711.5 M1443.67 1711.5V1680.9H1500.15V1692 M1471.91 1707.2V1692H1518.97V1706.8 M1462.5 1711.5V1707.2H1481.32V1711.5 M1509.56 1705.5V1706.8H1537.8V1711.5 M1500.15 1711.5V1705.5H1518.97V1711.5 M1556.62 1711.5V1632.6H1678.99V1673 M1631.92 1681.8V1673H1744.88V1695.5 M1584.86 1702.7V1681.8H1650.75V1692 M1575.45 1711.5V1702.7H1594.27V1711.5 M1641.34 1693.6V1692H1688.4V1711.5 M1622.51 1698.4V1693.6H1660.16V1700.8 M1613.1 1711.5V1698.4H1631.92V1711.5 M1650.75 1711.5V1700.8H1669.57V1711.5 M1726.05 1699V1695.5H1773.11V1703.3 M1707.22 1711.5V1699H1735.46V1705.7 M1726.05 1711.5V1705.7H1744.88V1711.5 M1763.7 1711.5V1703.3H1782.52V1711.5" fill="none" stroke="#1a1a1a" stroke-width="1.1"/>
<path d="M1863.1 1726.6H1998.3V1811.4H1940.6 M1863.1 1745.44H1940.6V1821.3H1920.8 M1863.1 1764.28H1901.6V1811.4H1866 M1920.8 1802.4V1868.2 M1901.6 1802.4H1920.8 M1866.9 1868H1920.8 M1863.1 1783.12H1863.8V1820.8H1863.1 M1863.1 1801.96H1864.3 M1864.3 1802.5H1866V1839.64H1863.1 M1863.1 1858.48H1866.9V1877.32H1863.1" fill="none" stroke="#1a1a1a" stroke-width="1.3"/>
</svg>
</body></html>
